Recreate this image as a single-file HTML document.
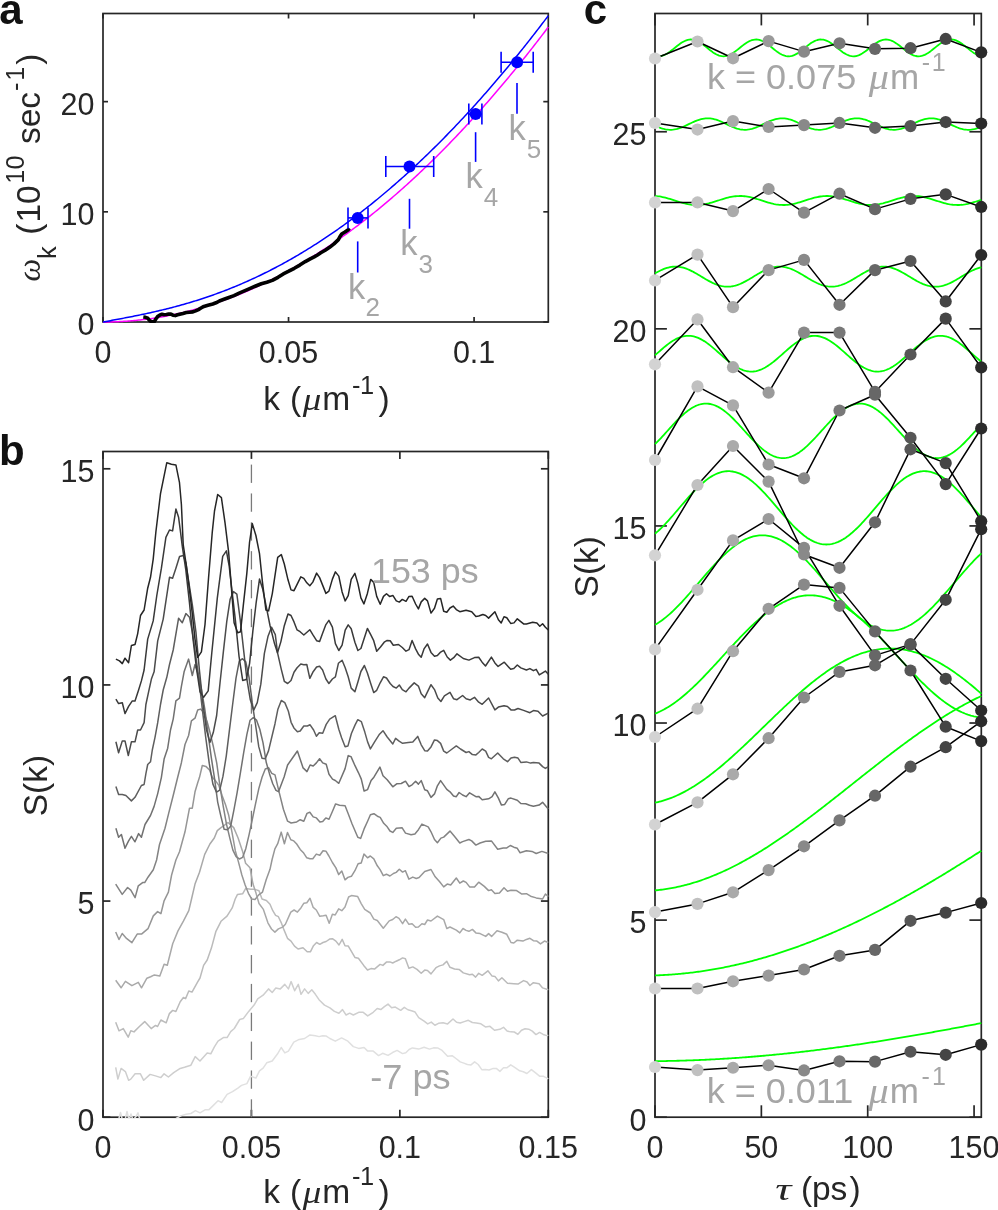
<!DOCTYPE html><html><head><meta charset="utf-8"><style>html,body{margin:0;padding:0;background:#fff;overflow:hidden}svg{display:block}</style></head><body><svg style="will-change:transform" width="998" height="1210" viewBox="0 0 998 1210" font-family='"Liberation Sans", sans-serif'><defs><clipPath id="clipA"><rect x="102" y="12.5" width="447.3" height="310.5"/></clipPath></defs><g stroke="#262626" stroke-width="1.7" fill="none"><line x1="103" y1="322" x2="103" y2="317"/><line x1="103" y1="13.5" x2="103" y2="18.5"/><line x1="288.54" y1="322" x2="288.54" y2="317"/><line x1="288.54" y1="13.5" x2="288.54" y2="18.5"/><line x1="474.08" y1="322" x2="474.08" y2="317"/><line x1="474.08" y1="13.5" x2="474.08" y2="18.5"/><line x1="103" y1="322" x2="108" y2="322"/><line x1="548.3" y1="322" x2="543.3" y2="322"/><line x1="103" y1="211.82" x2="108" y2="211.82"/><line x1="548.3" y1="211.82" x2="543.3" y2="211.82"/><line x1="103" y1="101.64" x2="108" y2="101.64"/><line x1="548.3" y1="101.64" x2="543.3" y2="101.64"/><rect x="103" y="13.5" width="445.3" height="308.5" fill="none"/></g><g clip-path="url(#clipA)"><polyline points="103,322 104.49,322 105.98,321.99 107.47,321.97 108.96,321.95 110.45,321.92 111.94,321.88 113.43,321.84 114.91,321.79 116.4,321.73 117.89,321.67 119.38,321.6 120.87,321.52 122.36,321.44 123.85,321.35 125.34,321.26 126.83,321.16 128.32,321.05 129.81,320.93 131.3,320.81 132.79,320.68 134.28,320.55 135.76,320.4 137.25,320.25 138.74,320.1 140.23,319.94 141.72,319.77 143.21,319.59 144.7,319.41 146.19,319.23 147.68,319.03 149.17,318.83 150.66,318.62 152.15,318.41 153.64,318.19 155.13,317.96 156.61,317.72 158.1,317.48 159.59,317.24 161.08,316.98 162.57,316.72 164.06,316.45 165.55,316.18 167.04,315.9 168.53,315.61 170.02,315.32 171.51,315.02 173,314.71 174.49,314.4 175.98,314.08 177.46,313.75 178.95,313.42 180.44,313.08 181.93,312.73 183.42,312.38 184.91,312.02 186.4,311.65 187.89,311.28 189.38,310.9 190.87,310.52 192.36,310.12 193.85,309.72 195.34,309.32 196.83,308.91 198.32,308.49 199.8,308.06 201.29,307.63 202.78,307.19 204.27,306.74 205.76,306.29 207.25,305.83 208.74,305.37 210.23,304.9 211.72,304.42 213.21,303.93 214.7,303.44 216.19,302.94 217.68,302.44 219.17,301.93 220.65,301.41 222.14,300.89 223.63,300.35 225.12,299.82 226.61,299.27 228.1,298.72 229.59,298.16 231.08,297.6 232.57,297.03 234.06,296.45 235.55,295.87 237.04,295.28 238.53,294.68 240.02,294.08 241.5,293.47 242.99,292.85 244.48,292.23 245.97,291.6 247.46,290.96 248.95,290.32 250.44,289.67 251.93,289.01 253.42,288.35 254.91,287.68 256.4,287 257.89,286.32 259.38,285.63 260.87,284.93 262.35,284.23 263.84,283.52 265.33,282.8 266.82,282.08 268.31,281.35 269.8,280.62 271.29,279.87 272.78,279.12 274.27,278.37 275.76,277.61 277.25,276.84 278.74,276.06 280.23,275.28 281.72,274.49 283.21,273.7 284.69,272.9 286.18,272.09 287.67,271.27 289.16,270.45 290.65,269.62 292.14,268.79 293.63,267.95 295.12,267.1 296.61,266.25 298.1,265.38 299.59,264.52 301.08,263.64 302.57,262.76 304.06,261.87 305.54,260.98 307.03,260.08 308.52,259.17 310.01,258.26 311.5,257.34 312.99,256.41 314.48,255.48 315.97,254.54 317.46,253.59 318.95,252.64 320.44,251.68 321.93,250.71 323.42,249.74 324.91,248.76 326.39,247.77 327.88,246.78 329.37,245.78 330.86,244.77 332.35,243.76 333.84,242.74 335.33,241.71 336.82,240.68 338.31,239.64 339.8,238.6 341.29,237.54 342.78,236.48 344.27,235.42 345.76,234.35 347.24,233.27 348.73,232.18 350.22,231.09 351.71,229.99 353.2,228.89 354.69,227.77 356.18,226.66 357.67,225.53 359.16,224.4 360.65,223.26 362.14,222.12 363.63,220.96 365.12,219.81 366.61,218.64 368.09,217.47 369.58,216.29 371.07,215.11 372.56,213.92 374.05,212.72 375.54,211.52 377.03,210.31 378.52,209.09 380.01,207.86 381.5,206.63 382.99,205.4 384.48,204.15 385.97,202.9 387.46,201.65 388.95,200.38 390.43,199.11 391.92,197.83 393.41,196.55 394.9,195.26 396.39,193.96 397.88,192.66 399.37,191.35 400.86,190.04 402.35,188.71 403.84,187.38 405.33,186.05 406.82,184.7 408.31,183.35 409.8,182 411.28,180.64 412.77,179.27 414.26,177.89 415.75,176.51 417.24,175.12 418.73,173.72 420.22,172.32 421.71,170.91 423.2,169.5 424.69,168.08 426.18,166.65 427.67,165.21 429.16,163.77 430.65,162.32 432.13,160.87 433.62,159.41 435.11,157.94 436.6,156.46 438.09,154.98 439.58,153.49 441.07,152 442.56,150.5 444.05,148.99 445.54,147.48 447.03,145.96 448.52,144.43 450.01,142.89 451.5,141.35 452.98,139.81 454.47,138.25 455.96,136.69 457.45,135.13 458.94,133.55 460.43,131.97 461.92,130.38 463.41,128.79 464.9,127.19 466.39,125.58 467.88,123.97 469.37,122.35 470.86,120.72 472.35,119.09 473.84,117.45 475.32,115.81 476.81,114.15 478.3,112.49 479.79,110.83 481.28,109.15 482.77,107.48 484.26,105.79 485.75,104.1 487.24,102.4 488.73,100.69 490.22,98.98 491.71,97.26 493.2,95.54 494.69,93.8 496.17,92.07 497.66,90.32 499.15,88.57 500.64,86.81 502.13,85.04 503.62,83.27 505.11,81.49 506.6,79.71 508.09,77.92 509.58,76.12 511.07,74.32 512.56,72.5 514.05,70.69 515.54,68.86 517.02,67.03 518.51,65.19 520,63.35 521.49,61.5 522.98,59.64 524.47,57.78 525.96,55.91 527.45,54.03 528.94,52.15 530.43,50.26 531.92,48.36 533.41,46.46 534.9,44.54 536.39,42.63 537.87,40.7 539.36,38.77 540.85,36.84 542.34,34.9 543.83,32.95 545.32,30.99 546.81,29.03 548.3,27.06" fill="none" stroke="#ff00ff" stroke-width="1.5" stroke-linejoin="round" stroke-linecap="butt" /><polyline points="143.3,317 145.5,317.3 147.7,318.2 149.5,320.5 151,321.5 152.6,322.1 154.3,321.6 156,318.8 157.6,316.6 160,315 162,314.3 164,314.8 166.5,314.5 168.7,314 170.9,314.1 173,315.2 175.3,315.6 177.5,314.8 179.7,314.2 183,313.4 186.3,312.5 189.5,312.2 192.9,311.9 195.6,310.9 198.4,309.6 201,308 203.9,306.4 208,305.3 212.8,304 216,302.8 219.4,301 224,299.3 228.2,297.7 234,295.6 239.2,293.1 245,290.6 250.2,288.3 255.7,286 261.3,283.8 266.8,282.2 272.3,280.4 278,277.3 283.3,273.9 288.8,271.2 294.3,268.3 299.8,265.1 305.3,261.6 309.8,259.1 314.2,256.9 317.5,255 320.8,252.8 325.2,250.3 329.6,247.3 334,243.9 338.4,239.6 340,236.5 341.7,234.1 345,232 348.3,229.7 349.4,228.2" fill="none" stroke="#000000" stroke-width="3.6" stroke-linejoin="round" stroke-linecap="butt" /><polyline points="103,322 104.49,321.73 105.98,321.46 107.47,321.18 108.96,320.91 110.45,320.64 111.94,320.36 113.43,320.09 114.91,319.81 116.4,319.53 117.89,319.26 119.38,318.98 120.87,318.7 122.36,318.42 123.85,318.13 125.34,317.85 126.83,317.56 128.32,317.27 129.81,316.98 131.3,316.69 132.79,316.39 134.28,316.1 135.76,315.8 137.25,315.5 138.74,315.19 140.23,314.88 141.72,314.57 143.21,314.26 144.7,313.95 146.19,313.63 147.68,313.3 149.17,312.98 150.66,312.65 152.15,312.32 153.64,311.98 155.13,311.64 156.61,311.3 158.1,310.95 159.59,310.6 161.08,310.25 162.57,309.89 164.06,309.53 165.55,309.16 167.04,308.79 168.53,308.42 170.02,308.04 171.51,307.65 173,307.26 174.49,306.87 175.98,306.48 177.46,306.07 178.95,305.67 180.44,305.26 181.93,304.84 183.42,304.42 184.91,303.99 186.4,303.56 187.89,303.13 189.38,302.69 190.87,302.24 192.36,301.79 193.85,301.33 195.34,300.87 196.83,300.41 198.32,299.93 199.8,299.46 201.29,298.97 202.78,298.49 204.27,297.99 205.76,297.5 207.25,296.99 208.74,296.48 210.23,295.97 211.72,295.45 213.21,294.92 214.7,294.39 216.19,293.85 217.68,293.31 219.17,292.76 220.65,292.2 222.14,291.64 223.63,291.08 225.12,290.5 226.61,289.93 228.1,289.34 229.59,288.75 231.08,288.16 232.57,287.55 234.06,286.95 235.55,286.33 237.04,285.71 238.53,285.09 240.02,284.46 241.5,283.82 242.99,283.18 244.48,282.53 245.97,281.87 247.46,281.21 248.95,280.54 250.44,279.87 251.93,279.19 253.42,278.5 254.91,277.81 256.4,277.11 257.89,276.41 259.38,275.7 260.87,274.98 262.35,274.26 263.84,273.53 265.33,272.79 266.82,272.05 268.31,271.3 269.8,270.55 271.29,269.79 272.78,269.02 274.27,268.25 275.76,267.47 277.25,266.69 278.74,265.89 280.23,265.1 281.72,264.29 283.21,263.48 284.69,262.66 286.18,261.84 287.67,261.01 289.16,260.18 290.65,259.33 292.14,258.48 293.63,257.63 295.12,256.77 296.61,255.9 298.1,255.03 299.59,254.15 301.08,253.26 302.57,252.36 304.06,251.47 305.54,250.56 307.03,249.65 308.52,248.73 310.01,247.8 311.5,246.87 312.99,245.93 314.48,244.99 315.97,244.04 317.46,243.08 318.95,242.11 320.44,241.14 321.93,240.17 323.42,239.18 324.91,238.19 326.39,237.2 327.88,236.2 329.37,235.19 330.86,234.17 332.35,233.15 333.84,232.12 335.33,231.09 336.82,230.04 338.31,229 339.8,227.94 341.29,226.88 342.78,225.81 344.27,224.74 345.76,223.66 347.24,222.57 348.73,221.48 350.22,220.38 351.71,219.27 353.2,218.16 354.69,217.04 356.18,215.91 357.67,214.78 359.16,213.64 360.65,212.5 362.14,211.34 363.63,210.19 365.12,209.02 366.61,207.85 368.09,206.67 369.58,205.49 371.07,204.3 372.56,203.1 374.05,201.89 375.54,200.68 377.03,199.47 378.52,198.24 380.01,197.01 381.5,195.78 382.99,194.53 384.48,193.28 385.97,192.03 387.46,190.76 388.95,189.49 390.43,188.22 391.92,186.93 393.41,185.65 394.9,184.35 396.39,183.05 397.88,181.74 399.37,180.42 400.86,179.1 402.35,177.77 403.84,176.44 405.33,175.1 406.82,173.75 408.31,172.39 409.8,171.03 411.28,169.67 412.77,168.29 414.26,166.91 415.75,165.52 417.24,164.13 418.73,162.73 420.22,161.32 421.71,159.91 423.2,158.49 424.69,157.06 426.18,155.63 427.67,154.19 429.16,152.74 430.65,151.29 432.13,149.83 433.62,148.36 435.11,146.89 436.6,145.41 438.09,143.92 439.58,142.43 441.07,140.93 442.56,139.43 444.05,137.92 445.54,136.4 447.03,134.87 448.52,133.34 450.01,131.8 451.5,130.26 452.98,128.7 454.47,127.15 455.96,125.58 457.45,124.01 458.94,122.43 460.43,120.85 461.92,119.26 463.41,117.66 464.9,116.05 466.39,114.44 467.88,112.83 469.37,111.2 470.86,109.57 472.35,107.94 473.84,106.29 475.32,104.64 476.81,102.98 478.3,101.32 479.79,99.65 481.28,97.97 482.77,96.29 484.26,94.6 485.75,92.91 487.24,91.2 488.73,89.49 490.22,87.78 491.71,86.05 493.2,84.32 494.69,82.59 496.17,80.85 497.66,79.1 499.15,77.34 500.64,75.58 502.13,73.81 503.62,72.04 505.11,70.25 506.6,68.47 508.09,66.67 509.58,64.87 511.07,63.06 512.56,61.25 514.05,59.42 515.54,57.6 517.02,55.76 518.51,53.92 520,52.07 521.49,50.22 522.98,48.36 524.47,46.49 525.96,44.62 527.45,42.73 528.94,40.85 530.43,38.95 531.92,37.05 533.41,35.15 534.9,33.23 536.39,31.31 537.87,29.39 539.36,27.45 540.85,25.51 542.34,23.56 543.83,21.61 545.32,19.65 546.81,17.69 548.3,15.71" fill="none" stroke="#0000ff" stroke-width="1.5" stroke-linejoin="round" stroke-linecap="butt" /></g><g stroke="#0000ff" stroke-width="1.6"><line x1="348" y1="217.9" x2="368" y2="217.9"/><line x1="348" y1="207.4" x2="348" y2="228.4"/><line x1="368" y1="207.4" x2="368" y2="228.4"/><line x1="385.8" y1="166.5" x2="433.7" y2="166.5"/><line x1="385.8" y1="156" x2="385.8" y2="177"/><line x1="433.7" y1="156" x2="433.7" y2="177"/><line x1="468.8" y1="114.1" x2="481.9" y2="114.1"/><line x1="468.8" y1="103.6" x2="468.8" y2="124.6"/><line x1="481.9" y1="103.6" x2="481.9" y2="124.6"/><line x1="501.1" y1="62.2" x2="533.2" y2="62.2"/><line x1="501.1" y1="51.7" x2="501.1" y2="72.7"/><line x1="533.2" y1="51.7" x2="533.2" y2="72.7"/><line x1="357.7" y1="241.4" x2="357.7" y2="272.5"/><line x1="409.5" y1="198.8" x2="409.5" y2="228.7"/><line x1="475.6" y1="132.2" x2="475.6" y2="161.9"/><line x1="517" y1="83.1" x2="517" y2="113.8"/></g><circle cx="357.7" cy="217.9" r="6.0" fill="#0000ff"/><circle cx="409.5" cy="166.5" r="6.0" fill="#0000ff"/><circle cx="475.6" cy="114.1" r="6.0" fill="#0000ff"/><circle cx="517.1" cy="62.2" r="6.0" fill="#0000ff"/><text x="347.98" y="298.6" font-size="34.5" fill="#a6a6a6">k</text><text x="365.59" y="316" font-size="26" fill="#a6a6a6">2</text><text x="400.28" y="255.2" font-size="34.5" fill="#a6a6a6">k</text><text x="418.41" y="272.9" font-size="26" fill="#a6a6a6">3</text><text x="465.48" y="188.4" font-size="34.5" fill="#a6a6a6">k</text><text x="483.8" y="206.2" font-size="26" fill="#a6a6a6">4</text><text x="508.58" y="139.8" font-size="34.5" fill="#a6a6a6">k</text><text x="526.76" y="158.2" font-size="26" fill="#a6a6a6">5</text><g font-size="30.5" fill="#262626"><text x="103" y="362.6" text-anchor="middle">0</text><text x="288.54" y="362.6" text-anchor="middle">0.05</text><text x="474.08" y="362.6" text-anchor="middle">0.1</text><text x="94.4" y="335.3" text-anchor="end">0</text><text x="94.4" y="225.12" text-anchor="end">10</text><text x="94.4" y="114.94" text-anchor="end">20</text></g><defs><clipPath id="clipB"><rect x="102" y="450.5" width="447.3" height="667.7"/></clipPath></defs><g stroke="#262626" stroke-width="1.7" fill="none"><line x1="103" y1="1117.2" x2="103" y2="1109.8"/><line x1="103" y1="451.5" x2="103" y2="458.9"/><line x1="251.43" y1="1117.2" x2="251.43" y2="1109.8"/><line x1="251.43" y1="451.5" x2="251.43" y2="458.9"/><line x1="399.87" y1="1117.2" x2="399.87" y2="1109.8"/><line x1="399.87" y1="451.5" x2="399.87" y2="458.9"/><line x1="548.3" y1="1117.2" x2="548.3" y2="1109.8"/><line x1="548.3" y1="451.5" x2="548.3" y2="458.9"/><line x1="103" y1="1117.2" x2="110.4" y2="1117.2"/><line x1="548.3" y1="1117.2" x2="540.9" y2="1117.2"/><line x1="103" y1="901.06" x2="110.4" y2="901.06"/><line x1="548.3" y1="901.06" x2="540.9" y2="901.06"/><line x1="103" y1="684.93" x2="110.4" y2="684.93"/><line x1="548.3" y1="684.93" x2="540.9" y2="684.93"/><line x1="103" y1="468.79" x2="110.4" y2="468.79"/><line x1="548.3" y1="468.79" x2="540.9" y2="468.79"/><rect x="103" y="451.5" width="445.3" height="665.7" fill="none"/></g><g stroke="#7a7a7a" stroke-width="1.3"><line x1="251.43" y1="464.6" x2="251.43" y2="482.9"/><line x1="251.43" y1="493.45" x2="251.43" y2="511.75"/><line x1="251.43" y1="522.3" x2="251.43" y2="540.6"/><line x1="251.43" y1="551.15" x2="251.43" y2="569.45"/><line x1="251.43" y1="580" x2="251.43" y2="598.3"/><line x1="251.43" y1="608.85" x2="251.43" y2="627.15"/><line x1="251.43" y1="637.7" x2="251.43" y2="656"/><line x1="251.43" y1="666.55" x2="251.43" y2="684.85"/><line x1="251.43" y1="695.4" x2="251.43" y2="713.7"/><line x1="251.43" y1="724.25" x2="251.43" y2="742.55"/><line x1="251.43" y1="753.1" x2="251.43" y2="771.4"/><line x1="251.43" y1="781.95" x2="251.43" y2="800.25"/><line x1="251.43" y1="810.8" x2="251.43" y2="829.1"/><line x1="251.43" y1="839.65" x2="251.43" y2="857.95"/><line x1="251.43" y1="868.5" x2="251.43" y2="886.8"/><line x1="251.43" y1="897.35" x2="251.43" y2="915.65"/><line x1="251.43" y1="926.2" x2="251.43" y2="944.5"/><line x1="251.43" y1="955.05" x2="251.43" y2="973.35"/><line x1="251.43" y1="983.9" x2="251.43" y2="1002.2"/><line x1="251.43" y1="1012.75" x2="251.43" y2="1031.05"/><line x1="251.43" y1="1041.6" x2="251.43" y2="1059.9"/><line x1="251.43" y1="1070.45" x2="251.43" y2="1088.75"/><line x1="251.43" y1="1099.3" x2="251.43" y2="1117.2"/></g><g clip-path="url(#clipB)"><polyline points="118.5,1120 120.5,1112.5 122.5,1120 125,1120 127,1111.5 129,1120 131,1114 133,1120 136,1116.5 138,1112.8 140,1120 143.33,1122.83 146.67,1120.37 150,1121 153.33,1121.19 156.67,1121.79 160,1121 163.33,1119.58 166.67,1120.52 170,1120 176,1118.5 181.3,1115.6 186.1,1114.26 190.9,1113.5 195.45,1110.58 200,1112.8 205.4,1109.7 209,1109.65 212.6,1106.1 218,1100.7 221.6,1102.5 227.1,1094.4 232.5,1091.7 237.9,1088.1 241.5,1085.4 246.9,1083.6 250.5,1076.3 255.9,1078.1 259.5,1070.9 263.1,1068.2 266.7,1062.8 272.2,1061 277.6,1053.8 281.2,1047.5 284.8,1052.9 288.4,1051.1 293.8,1042.1 299.2,1039.4 304.6,1038.5 310,1034.9 315.4,1035.8 319.05,1036.62 322.7,1035.8 326.3,1036.02 329.9,1038.5 335.3,1041.2 341.6,1037.9 347.9,1041.2 353.3,1046.6 358.7,1048.4 364.1,1047.5 367.7,1051.1 373.2,1051.1 378.6,1055.6 382.6,1053.3 388,1055.4 392.55,1052.51 397.1,1050.4 402.5,1053.6 405.8,1052.72 409.1,1049.53 412.4,1047.9 418.7,1049.1 424.1,1047.3 429.5,1049.1 433.55,1047.86 437.6,1047.9 442.1,1050.4 447.6,1056.3 452.1,1055.65 456.6,1059 460.2,1061.88 463.8,1063.11 467.4,1064.5 471,1064.89 474.6,1061.86 478.2,1064.5 481.8,1069.68 485.4,1069.5 489.03,1069.96 492.67,1068.61 496.3,1068.4 499.9,1071.39 503.5,1067.84 507.1,1067.7 510.7,1064.84 514.3,1067.2 519.7,1070.8 523.3,1071.75 526.9,1073.5 531.4,1069.61 535.9,1073.1 539.55,1076.13 543.2,1076.2 548.3,1078.9" fill="none" stroke="#e0e0e0" stroke-width="1.5" stroke-linejoin="round" stroke-linecap="butt" /><polyline points="115.7,1067.3 117.9,1079.1 121.1,1068.4 125.4,1071.6 128.6,1080.3 130.8,1079.1 135.1,1073.8 140.4,1073.8 143.7,1080.3 150.1,1074.4 155.5,1075.9 160.9,1077.6 164.1,1073.8 168.4,1077 173.7,1072.7 180.2,1068.4 184.5,1067.3 190.9,1065.2 195.2,1056.6 200,1061 203.6,1057 207.2,1052.9 210.8,1053.8 214.4,1046.9 218,1041.2 223.4,1037.6 227.1,1037.6 230.7,1031.62 234.3,1028.5 239.7,1019.5 243.3,1018.6 248.7,1011.4 254.1,1005.1 257.7,998.8 263.1,995.2 268.5,988.9 272.2,992.5 275.8,988 280.3,988.9 284.8,984.4 288.4,988.9 291.1,981.6 294.7,990.7 298.3,984.4 301,994.3 304.6,988.9 308.2,993.4 311.8,989.8 315.4,994.3 319,999.7 324.5,1005.1 329.9,1007.8 334.4,1011.4 338.9,1013.2 342.5,1009.6 346.1,1015 349.7,1013.2 353.3,1015 358.7,1012.3 363.2,1012.3 367.7,1015.9 373.2,1012.3 377.2,1008.5 380.8,1009.58 384.4,1006.7 388.03,1004.15 391.67,1007.69 395.3,1007.1 400.7,1010.3 404.3,1007.35 407.9,1009.75 411.5,1010.7 415.1,1012.07 418.7,1017.6 424.1,1021.2 427.7,1023.93 431.3,1022.1 434.9,1025.28 438.5,1023.3 443.05,1022.8 447.6,1023.9 453,1019 456.6,1022.31 460.2,1023 464.25,1021.59 468.3,1020.3 472.35,1022.5 476.4,1023 480.9,1023.78 485.4,1026.9 489.95,1026.31 494.5,1030.2 499.9,1029.3 503.5,1027.31 507.1,1031.1 510.7,1031.87 514.3,1032 517.9,1034.35 521.5,1030.27 525.1,1028.7 528.7,1029.15 532.3,1031.1 535.95,1034.6 539.6,1032.4 543.2,1034.44 546.8,1035.6 548.3,1035.2" fill="none" stroke="#cecece" stroke-width="1.5" stroke-linejoin="round" stroke-linecap="butt" /><polyline points="115.7,1022.2 119,1030.8 123.3,1028.6 128.2,1037.2 130.8,1030.8 134,1031.9 139.4,1026.5 144.7,1021.6 151.2,1028.6 155.5,1025.4 157.6,1026.5 160.9,1020 166.2,1022.8 169.4,1013.6 172.7,1010.4 175.9,1011.5 180.2,1001.8 183.4,997.5 185.6,998.6 188.8,991 192,992.1 197.4,982.4 200,978 203.6,965.4 207.2,960 211.4,948.1 215.8,931.7 221,921.3 227,916.1 232.2,907.9 235.2,899 237.4,894.6 242.6,893.8 245.6,888.6 250.8,889.3 254.9,889.36 259,890.8 262,899 266.4,900.5 270,904.3 272.8,910.7 275.6,915.3 278.4,916.7 281.2,922.6 284,929.9 287.5,938.3 291,941.1 294.5,946.1 298.1,949 303,947.8 307.2,951.8 310.4,951.8 313.5,945.7 316.6,942.5 319.8,944.3 323,942.5 326.1,941.5 329.6,939.1 332.4,938.7 335.9,941.1 339,945 342.2,939.4 345,945.7 348.3,946.1 351.4,951.3 354.9,957.4 358.4,958.3 363.7,965.4 367.5,970 371,968.6 374.5,969.1 380.1,964.4 382.9,965.4 386.4,962.1 389.9,961.9 392.7,963 396.2,961.2 399.3,959.8 402.6,957.9 405.4,958.8 408.9,968.2 412.8,966.9 417,969.4 421.2,973.3 424.7,970.1 427.5,970.5 431,973.9 436,967.7 439.5,965.9 443,964.9 446.8,961.3 450,967.3 454.55,968.93 459.1,969.4 463.3,972.9 469.6,974.7 472.4,974.3 475.6,977.1 478.7,973.3 482.2,975.3 487.9,970.8 492.1,976.1 494.9,976.4 498.4,980.9 501.9,977.8 507.5,983.2 513.8,983.7 518,984.1 523.6,980.6 527.1,982 529.9,985.5 533.4,982.7 539.1,983.7 542.6,987.9 548.3,989.7" fill="none" stroke="#bbbbbb" stroke-width="1.5" stroke-linejoin="round" stroke-linecap="butt" /><polyline points="115.7,980.3 121.1,987.8 125.4,981.4 131.9,985.7 138.3,982.4 141.5,987.8 146.9,978.2 150.65,976.72 154.4,974.9 159.8,976 164.1,964.2 167.3,965.3 172.7,943.8 178,930.9 183.4,921.2 188.8,910.7 192,897 195,884.1 199.5,872.2 204.7,854.4 209.9,844 214.3,838 217.3,830.6 221,827.6 223.3,826.1 228,822.5 233.7,827.6 238.1,838 242.6,851.4 245.6,863.3 250,867.8 253,884.1 256,893.1 259,903.5 263.4,909.4 267.9,922.8 271.5,929 274.9,932.1 278.4,928.9 282.6,927.1 285.4,924.3 290.8,912.1 294.1,910 297.4,912.1 300.9,907.9 303.9,903.2 306.8,902.7 310,898.3 313.2,907.4 316.3,910 319.8,916.3 323.3,915.8 326.1,915.3 329.2,923.3 332.4,914.2 335.2,914.9 338.7,908.8 341.8,910.7 345,907.1 348.6,897 351.4,895.6 357.7,896.6 361.2,903.6 364.7,909.3 370.3,913 373.8,919.1 377.3,920.5 383.3,928.2 389.2,920.9 392.7,919.5 396,916.7 399,918.4 402.6,923.7 405.4,919.1 408.9,924.3 412.1,923.8 415.6,927.3 418.4,927 421.9,923.8 424.7,924.5 427.5,920 431,921 437.4,916.1 443.7,919.6 446.8,928.5 450,927 456.3,930.1 459.8,932.9 463,928.5 466.1,930.4 468.9,931.3 472.4,929.4 475.9,932.9 480.1,933.6 485.7,936.4 488.6,933.6 491.6,936.4 497,930.8 501.9,932.2 506.8,934.3 511,942.5 513.8,943 517.3,940.2 522.9,941.1 526.4,939.44 529.9,938.3 533.4,940.7 536.9,941.1 540.5,943.9 544.4,941.05 548.3,942.5" fill="none" stroke="#a9a9a9" stroke-width="1.5" stroke-linejoin="round" stroke-linecap="butt" /><polyline points="115.7,932 119,939.5 122.2,933.5 126.5,938.4 131.9,942.7 137.2,934.1 141.5,934.1 148,928.7 153.3,915.9 157.6,911.6 160.9,913.7 164.1,900.8 168.4,892.2 171.6,875 175.9,860 179.5,851.8 185,831.8 189.5,808.2 192.3,808.2 195,791.8 197.7,782.7 199.5,777.3 202.3,765.5 205.9,766.4 209.5,770 212.3,777.3 215.58,780.82 218.87,785.43 222.15,795.75 225.44,804.56 228.72,815.3 232.01,832.47 235.29,850.63 238.58,862.37 241.86,874.98 245.15,885 248.43,893.34 251.72,899 255,899.5 258.75,894.85 262.5,892.04 266.25,879.44 270,869.3 272.1,859.5 274.9,848.9 277.7,843.7 281.2,832.1 284.4,843.7 287.5,832.5 290.8,839.8 293.8,840.9 296.7,844 300.2,849.4 303.7,853.1 306.8,857.8 310,858.8 312.8,858.8 316.3,854.1 319.8,855.2 323,850.8 326.1,851.3 328.9,856 332.4,862.5 335.9,867.9 338.7,874.6 341.8,871 345,879.8 347.9,877.4 351.4,876.3 354.9,870.7 358.1,863.7 361.2,863 364,854.1 367.5,857.8 370.3,856 373.8,858.8 377.3,865.8 380.1,869.6 383.3,875.6 386.4,874.2 389.9,876 393.4,873.5 396.2,872.4 399.3,869.3 402.6,872.1 405.4,870.7 408.9,879.1 412.8,877.1 416.3,878.5 419.1,877.5 424.7,871.5 431,869.5 435.2,876.8 439.45,881.49 443.7,886.9 447.2,884.1 450.7,885 456.3,878 459.8,883.1 463.3,881 466.1,882.4 469.6,886.9 474.5,886.9 478.7,882.2 484.3,886.4 488.6,890.6 491.4,889.7 494.9,893.4 499.45,892.88 504,887.8 507.5,891.21 511,890.2 516.6,890.6 521.5,893.9 526.4,893.7 530.6,896.2 536.2,897.9 542.6,899 545.4,894 548.3,896.5" fill="none" stroke="#969696" stroke-width="1.5" stroke-linejoin="round" stroke-linecap="butt" /><polyline points="115.7,884.1 122.2,894.4 127.6,887.5 130.8,890.1 135.1,897.6 138.3,885.8 142.6,882.6 144.7,882.6 148,877.2 153.3,869.7 156.6,860 159.5,844.5 165,828.2 168.6,813.6 173.2,795.5 177.7,777.3 181.4,762.7 185,744.5 188.6,735.5 191.4,720.9 195,718.2 197.7,710 200.5,709.1 203.74,712.56 206.98,721.23 210.22,733.31 213.46,747.04 216.7,762.79 219.93,786.02 223.17,805.95 226.41,823.88 229.65,837.31 232.89,850.13 236.13,856.68 239.37,858.97 242.61,857.41 245.85,848.43 249.09,834.64 252.33,819.38 255.57,803.69 258.8,788.59 262.04,777.18 265.28,768.94 268.52,767.75 271.76,773.34 275,774.9 279.2,792.4 283.4,809.2 287.6,821.2 291.1,823 296.7,821.9 300.2,819.7 303.8,821.2 307,813.4 309.8,812.3 313.2,816.9 316.4,817.9 319.9,822.1 322.7,821.6 325.8,817.9 329,819.3 332.5,811.3 335.6,803.9 339.5,805.3 345.1,805.7 348.6,814.8 352.1,824 357.8,837.3 360.6,838.4 364.1,828.9 367.6,821.2 370.4,814.8 373.9,813.7 377.4,816.2 380.2,817.4 383.7,823.3 387.2,826.8 390,831 392.8,832.4 396.3,828.2 402,827.7 405.5,833.1 411.1,834.8 414.9,833.9 418.4,829.7 421.9,824.1 428.2,826.9 431,831.8 434.5,839.5 437.4,842.7 440.9,838.1 443.7,837.1 450,831.1 454.2,836 459.8,843 462.6,841.6 468.9,839.5 471.7,840.9 475.9,845.1 480.1,843 485.7,841.3 491.4,840.9 497.7,849.3 503.3,847.9 506.8,847.94 510.3,845.5 513.8,847.2 517.3,848.3 520.1,852.8 526.4,850.7 532,851.4 536.2,853.5 541.9,851.4 548.3,853.5" fill="none" stroke="#838383" stroke-width="1.5" stroke-linejoin="round" stroke-linecap="butt" /><polyline points="115.9,828.2 118.6,837.3 121.4,834.5 125,848.2 128.6,840.9 131.4,836.4 135,841.8 138.6,833.6 141.4,837.3 145,824.5 150.5,815.5 154.1,806.4 157.7,793.6 161.4,777.3 164.1,759.1 167.7,748.2 170.5,730 173.2,719.1 175.9,700.9 179.5,698.2 181.4,686.4 184.1,671.8 188.6,659.1 192.3,675.5 195,664.5 198.24,674.47 201.48,689.71 204.72,708.71 207.96,733.18 211.2,756.94 214.44,777.8 217.68,802.08 220.92,816.38 224.16,829.36 227.4,829.75 230.64,826.33 233.88,810.15 237.12,792.73 240.36,773.13 243.6,753.24 246.84,734.66 250.08,720.28 253.32,717.65 256.56,720.16 259.8,729.25 263.04,742.87 266.28,762.53 269.52,773.9 272.76,783.71 276,790.4 278.5,791.7 284.1,777 287.6,765 292.5,758 297.4,751 303.1,767.9 307,771.6 310.1,765 313.2,766 316.4,762.9 319.6,758.7 322.7,762.9 326.2,764.3 329,774.2 332.5,779.1 335.3,780.5 338.8,783.3 345.1,768.6 348.2,755.6 351,756.6 355,765.7 358.5,772.8 361.3,779.1 364.1,791 367.6,789.6 371.1,780.5 373.9,777.2 379.9,767.1 383,775.8 387.2,779.8 392.8,786.8 397,783.7 401.25,783.49 405.5,781.2 409,786.5 412.1,784.8 415.6,781.3 418.4,784.1 421.2,780.6 424.7,789.7 427.5,790.8 431,797.4 434.5,793.9 437.4,785.8 440.6,780.6 446.8,789.4 450,791.8 453.5,796 456.3,796.7 459.1,792.5 462.6,795 466.1,796.7 469.6,792.8 475.9,796.7 478.7,796.4 482.2,799.8 488.6,798.8 492.1,796.7 494.9,791.8 498.4,798.1 501.5,805.1 504.7,804.4 508.2,798.8 511,798.1 517.3,800.2 520.8,803.5 525.7,803.7 529.55,805.25 533.4,806.3 539.1,805.1 542.6,802.3 548.3,809.1" fill="none" stroke="#717171" stroke-width="1.5" stroke-linejoin="round" stroke-linecap="butt" /><polyline points="115.9,786.4 118.6,794.5 122.3,794.5 125.9,795.5 131.4,800.9 135,797.3 141.4,785.5 144.1,784.5 145.9,773.6 147.7,764.5 150.5,761.8 152.3,750 155,737.3 157.7,722.7 160.5,704.5 163.2,690 166.8,677.3 169.5,664.5 173.2,650 178.6,618.2 182.3,622.7 185.9,613.6 189.5,617.3 192.3,631.8 195,650 198.58,676.45 202.17,707.9 205.75,737.7 209.33,763.95 212.92,784.18 216.5,792.1 219.75,790.1 223,776.17 226.25,756.12 229.5,729.69 232.75,703.53 236,678.06 239.25,661.21 242.5,658.71 245.75,661.89 249,677.04 252.25,702.95 255.5,724.5 258.75,746.67 262,758.2 265.25,758.83 268.5,750.87 271.75,737.23 275,723.7 277.8,709.6 281.3,700.5 284.8,702.6 288.3,711 291.1,722.3 293.9,727.9 297.4,731.7 300.2,731 303.8,726 307.3,726 310.1,724.8 313.6,730 316.4,736.3 319.2,732.8 322.7,733.2 326.2,724.4 329.7,719.2 335.3,715.7 338.8,729.3 341.6,737.7 345.1,746.8 347.9,746.1 351.4,733.5 355,725.1 357.8,719.7 361.3,721.6 364.8,732.1 367.6,741.9 370.4,748.9 374.6,741.9 379.5,734.2 383,730.7 387.2,737 392.8,744 395.6,738.4 399.1,741.2 402.6,743.3 408.3,742.6 412.8,742 417.7,736.4 421.2,744.8 424.7,750.7 427.5,751.1 431,746.9 434.5,739.9 437.4,740.6 440.6,743.4 443.7,751.1 446.8,753 452.1,749 456.3,745.9 460.5,749 466.1,752.5 468.9,751.6 472.4,754.6 475.9,754.9 478.7,752.5 482.2,749 485.7,751.1 488.6,757.4 491.4,758.8 497.7,753 503.3,758.8 507.5,761.7 511,758.1 514.5,757.2 518,758.1 520.8,762.4 526.4,761.9 530.6,763.1 533.4,762.4 539.1,763.1 542.6,766.6 545.4,768.4 548.3,766.6" fill="none" stroke="#5e5e5e" stroke-width="1.5" stroke-linejoin="round" stroke-linecap="butt" /><polyline points="115.9,741.8 118.6,752.7 122.3,740.9 125,740.9 128.3,755.5 131.4,741.8 135,741.8 137.7,730 140.5,730 144.1,722.7 145.9,704.5 148.6,691.8 151.4,679.1 154.1,671.8 157.7,640.9 163.2,619.1 169.5,577.3 172.6,578.2 175.9,568.2 179.55,556.47 183.2,555.5 185.9,562.7 188.6,580.9 192.3,604.5 195.9,631.8 199.4,669.97 202.9,703.32 206.4,729.47 209.9,742.4 213.27,732.57 216.64,715.52 220.01,682.98 223.38,651.56 226.75,621.66 230.12,599.37 233.48,591.63 236.85,594.08 240.22,619.6 243.59,649.88 246.96,679.71 250.33,699.78 253.7,710.2 257.26,702.59 260.82,684.15 264.38,653.29 267.94,636.56 271.5,627.2 275.3,634.7 277.5,652.7 281.3,669.3 284.3,681.3 287.7,683.5 291,680.5 294,672.3 297.1,667.8 300.8,664 303.8,664.8 306.8,664.5 309.8,678.3 312.8,672.3 316.6,667 319.6,666.3 322.6,670 325.9,679 328.9,683.5 332.4,679 335.4,676.8 338.4,663.3 342.1,660.2 345.2,667.8 348.2,676.8 351.2,688.1 354.9,691.8 357.9,682 360.9,671.5 364.4,665.5 367.4,673 370.7,683.5 373.7,692.6 376.7,690.3 380.2,682.8 383.5,676.8 386.5,678 390.2,683.5 393,686.5 396.3,688.1 399.3,685 402.3,689.6 406,691.8 409,688.1 414.2,682.9 418.4,686.1 421.2,693.8 424.7,697.7 431,684.7 434.5,689.6 437.8,698 440.9,701.5 444.4,695.9 450,692.4 453.5,698.7 457,699.7 462.6,695.5 466.1,698.7 470.3,699.91 474.5,697.3 478.7,702.2 482.2,704.3 488.6,698 494.9,709.9 498.4,707.1 504,705.7 507.5,706.49 511,709.9 514.5,709.95 518,708.5 523.6,710.4 529.9,712.7 533.4,710.6 538,711.22 542.6,716 548.3,713.2" fill="none" stroke="#4b4b4b" stroke-width="1.5" stroke-linejoin="round" stroke-linecap="butt" /><polyline points="115.9,699.1 118.6,703.6 122.3,702.7 125,713.6 128.6,706.4 132.3,700.9 135,700.9 138.6,690 141.4,680.9 144.1,670 147.7,639.1 153.2,620.9 156.8,595.5 161.4,568.2 165.9,537.3 169.5,530 172.6,530.9 175.9,509.1 178.6,517.3 180.5,531.8 182.3,546.4 185.85,570.17 189.4,602.15 192.95,638.19 196.5,668.7 200.05,691.86 203.6,697.3 208.2,690.9 211.8,652.7 217.3,598.2 222.7,556.4 226.4,550.9 229.1,565.5 231.8,589.1 235.43,620.51 239.05,656.49 242.68,680.42 246.3,679.6 249.6,663.36 252.9,630.62 256.2,602.28 259.5,579.1 262.7,589.1 266.4,607.3 270,625.5 274.5,643.6 277.5,652.7 280.9,641.6 284.3,625.7 288,614 291,615.5 294,621.9 297.1,629.9 300.1,631.7 303.8,635 309.8,629.7 312.8,634.7 316.6,640.7 319.6,641.5 322.6,633.2 325.9,624.6 328.9,620.4 332.4,627.2 335.4,643.7 338.8,650.5 342.1,645.2 345.2,630.2 348.2,624.9 351.2,628.7 354.9,642.2 357.9,650.5 360.9,648.5 363.9,639.2 367.4,628.4 370.7,634.7 373.7,640.7 376.7,651.2 380.5,647 384.2,642.2 387.2,640.4 390.2,640.7 393.3,645.2 398.5,644.5 402.3,647.5 406,651.2 409,649.7 412.1,640.5 415.6,648.9 418.4,654.2 421.2,657.3 424,648.9 427.5,644 431,652.4 434.5,656.2 437.4,655.6 440.2,652.4 443.7,650.3 447.2,657 450.4,660.1 453.7,657.72 457,653.8 463.3,658.5 468.9,660.1 474.5,657.6 478.7,657.3 482.1,662.17 485.5,666 491.4,657.1 494.9,662.9 498.1,666.4 504.3,662.2 510.7,669.3 513.8,668.6 517.3,665 520.8,667.9 526.4,670 529.9,668.6 533.4,670.7 536.2,669.3 539.3,674.9 542.6,672.8 545.4,671.1 548.3,674.2" fill="none" stroke="#393939" stroke-width="1.5" stroke-linejoin="round" stroke-linecap="butt" /><polyline points="115.9,659.1 119.5,660.9 122.3,663.6 125,658.2 128.6,662.7 131.4,645.5 135,644.5 137.7,633.6 140.5,615.5 144.1,610 147.7,588.2 150.5,577.3 153.2,559.1 155.9,531.8 160.5,493.6 166.8,462.7 171.4,464.2 175.9,464.9 179.5,482.7 181.4,504.5 183.2,544.5 185.9,562.7 188.6,582.7 192.3,613.6 195,639.1 197.7,657.3 201.4,651.8 205,624.5 208.6,577.3 212.3,531.8 214.5,511 217.7,494.5 221.4,497.6 225,522.7 228.6,551.8 232.3,599.1 234.1,622.7 237.7,632.7 240.5,631.8 243.2,606.4 246.8,573.6 249.5,542.7 252.3,523.6 255.9,535.5 259.5,553.6 262.3,580.9 265.9,610 268.6,610.9 272.3,593.6 277.7,557.3 281.3,554.6 284.3,564 288,579.8 291,589.9 294,590.7 297.1,584.3 300.8,576.8 303.8,578.3 306.8,582.8 309.8,585.8 312.8,582.1 316.6,573.1 319.6,577.6 322.6,585.1 325.9,593.4 328.9,591.1 332.4,579.1 335.4,571.9 338.8,576.1 342.1,591.9 345.2,600.9 348.2,595.6 351.2,579.4 354.9,573.4 357.9,583.6 360.9,597.9 363.9,603.9 367.4,593.4 370.7,579.4 373.7,582.4 376.7,596.4 380.2,604.3 383.5,596.4 386.5,593.8 389.5,596.4 393,595.6 396.3,600.9 399.3,602.1 402.3,599.4 406,601.3 409,596.4 412.1,596.3 415.6,604 418.4,608.9 421.2,601.9 424.7,598.4 427.5,600.9 431,613.1 434.5,608.2 437.4,599.1 440.6,598.4 443.7,611.3 446.8,612.2 450,608 453.2,606.1 456.3,609.6 459.8,611.7 466.1,610.3 471.7,611.7 475.9,616.4 478.7,616 482.9,614.5 485.7,615.5 488.6,618.1 494.9,611.7 498.4,619.7 501.2,623 504,616.7 506.8,617.8 510.7,623.4 514,622.88 517.3,618.8 523.6,623.9 526.4,623.9 532.7,622.3 536.9,623 539.8,626.2 542.6,623.7 545.4,627.2 548.3,630" fill="none" stroke="#262626" stroke-width="1.5" stroke-linejoin="round" stroke-linecap="butt" /></g><text transform="translate(370.97,583.2) scale(1.03,1)" font-size="34.8" fill="#a6a6a6">153 ps</text><text transform="translate(370.2,1089.1) scale(1.04,1)" font-size="34.8" fill="#a6a6a6">-7 ps</text><g font-size="30.5" fill="#262626"><text x="103" y="1157.8" text-anchor="middle">0</text><text x="251.43" y="1157.8" text-anchor="middle">0.05</text><text x="399.87" y="1157.8" text-anchor="middle">0.1</text><text x="548.3" y="1157.8" text-anchor="middle">0.15</text><text x="94.4" y="1130.5" text-anchor="end">0</text><text x="94.4" y="914.36" text-anchor="end">5</text><text x="94.4" y="698.23" text-anchor="end">10</text><text x="94.4" y="482.09" text-anchor="end">15</text></g><defs><clipPath id="clipC"><rect x="654" y="12.5" width="328.3" height="1105.7"/></clipPath></defs><text transform="translate(706.96,88.9) scale(1.03,1)" font-size="35" fill="#a6a6a6">k = 0.075</text><text transform="translate(868.84,88.9) scale(1.12,1)" font-size="36" fill="#a6a6a6" font-style="italic" font-family="Liberation Serif">μ</text><text x="889.98" y="88.9" font-size="35" fill="#a6a6a6">m</text><text x="921.79" y="71" font-size="25" fill="#a6a6a6">-</text><text x="931.7" y="71" font-size="25" fill="#a6a6a6">1</text><text transform="translate(706.66,1102.5) scale(1.03,1)" font-size="35" fill="#a6a6a6">k = 0.011</text><text transform="translate(868.54,1102.5) scale(1.12,1)" font-size="36" fill="#a6a6a6" font-style="italic" font-family="Liberation Serif">μ</text><text x="889.68" y="1102.5" font-size="35" fill="#a6a6a6">m</text><text x="921.49" y="1084.6" font-size="25" fill="#a6a6a6">-</text><text x="932.1" y="1084.6" font-size="25" fill="#a6a6a6">1</text><g stroke="#262626" stroke-width="1.7" fill="none"><line x1="655" y1="1117.2" x2="655" y2="1105.3"/><line x1="655" y1="13.5" x2="655" y2="25.4"/><line x1="761.36" y1="1117.2" x2="761.36" y2="1105.3"/><line x1="761.36" y1="13.5" x2="761.36" y2="25.4"/><line x1="867.71" y1="1117.2" x2="867.71" y2="1105.3"/><line x1="867.71" y1="13.5" x2="867.71" y2="25.4"/><line x1="974.07" y1="1117.2" x2="974.07" y2="1105.3"/><line x1="974.07" y1="13.5" x2="974.07" y2="25.4"/><line x1="655" y1="1117.2" x2="666.9" y2="1117.2"/><line x1="981.3" y1="1117.2" x2="969.4" y2="1117.2"/><line x1="655" y1="920.11" x2="666.9" y2="920.11"/><line x1="981.3" y1="920.11" x2="969.4" y2="920.11"/><line x1="655" y1="723.02" x2="666.9" y2="723.02"/><line x1="981.3" y1="723.02" x2="969.4" y2="723.02"/><line x1="655" y1="525.93" x2="666.9" y2="525.93"/><line x1="981.3" y1="525.93" x2="969.4" y2="525.93"/><line x1="655" y1="328.84" x2="666.9" y2="328.84"/><line x1="981.3" y1="328.84" x2="969.4" y2="328.84"/><line x1="655" y1="131.75" x2="666.9" y2="131.75"/><line x1="981.3" y1="131.75" x2="969.4" y2="131.75"/><rect x="655" y="13.5" width="326.3" height="1103.7" fill="none"/></g><g clip-path="url(#clipC)"><polyline points="655,55.82 656.49,56.14 657.98,56.29 659.47,56.26 660.96,56.06 662.45,55.7 663.94,55.17 665.43,54.48 666.92,53.67 668.41,52.73 669.9,51.7 671.39,50.58 672.88,49.41 674.37,48.21 675.86,47 677.35,45.81 678.84,44.67 680.33,43.59 681.82,42.6 683.31,41.72 684.8,40.96 686.29,40.36 687.78,39.9 689.27,39.62 690.76,39.5 692.25,39.56 693.74,39.79 695.23,40.19 696.72,40.75 698.21,41.46 699.7,42.3 701.19,43.26 702.68,44.31 704.17,45.43 705.66,46.61 707.15,47.82 708.64,49.02 710.13,50.21 711.62,51.34 713.11,52.41 714.6,53.38 716.09,54.23 717.58,54.96 719.07,55.54 720.56,55.96 722.05,56.22 723.54,56.3 725.03,56.21 726.52,55.95 728.01,55.52 729.5,54.93 730.99,54.19 732.48,53.33 733.97,52.35 735.46,51.29 736.95,50.15 738.44,48.96 739.93,47.76 741.42,46.55 742.91,45.38 744.4,44.25 745.89,43.2 747.38,42.25 748.87,41.42 750.36,40.72 751.85,40.17 753.34,39.78 754.83,39.55 756.32,39.5 757.81,39.63 759.3,39.92 760.79,40.38 762.28,41 763.77,41.76 765.26,42.64 766.75,43.64 768.24,44.72 769.73,45.87 771.22,47.06 772.71,48.27 774.2,49.47 775.69,50.64 777.18,51.75 778.67,52.78 780.16,53.71 781.65,54.52 783.14,55.2 784.63,55.72 786.12,56.08 787.61,56.27 789.1,56.29 790.59,56.13 792.08,55.8 793.57,55.31 795.06,54.67 796.55,53.89 798.04,52.98 799.53,51.96 801.02,50.87 802.51,49.71 804,48.51 805.49,47.3 806.98,46.11 808.47,44.95 809.96,43.85 811.45,42.84 812.94,41.93 814.43,41.14 815.92,40.49 817.41,40 818.89,39.67 820.38,39.51 821.87,39.53 823.36,39.72 824.85,40.08 826.34,40.6 827.83,41.27 829.32,42.08 830.81,43.01 832.3,44.04 833.79,45.15 835.28,46.31 836.77,47.51 838.26,48.72 839.75,49.91 841.24,51.06 842.73,52.15 844.22,53.14 845.71,54.03 847.2,54.79 848.69,55.41 850.18,55.87 851.67,56.17 853.16,56.3 854.65,56.25 856.14,56.03 857.63,55.64 859.12,55.09 860.61,54.39 862.1,53.56 863.59,52.61 865.08,51.56 866.57,50.44 868.06,49.26 869.55,48.06 871.04,46.85 872.53,45.67 874.02,44.53 875.51,43.46 877,42.48 878.49,41.62 879.98,40.88 881.47,40.29 882.96,39.86 884.45,39.59 885.94,39.5 887.43,39.58 888.92,39.83 890.41,40.25 891.9,40.83 893.39,41.56 894.88,42.41 896.37,43.38 897.86,44.44 899.35,45.58 900.84,46.76 902.33,47.97 903.82,49.17 905.31,50.35 906.8,51.48 908.29,52.53 909.78,53.49 911.27,54.33 912.76,55.04 914.25,55.6 915.74,56 917.23,56.24 918.72,56.3 920.21,56.19 921.7,55.9 923.19,55.45 924.68,54.84 926.17,54.09 927.66,53.22 929.15,52.23 930.64,51.15 932.13,50 933.62,48.81 935.11,47.61 936.6,46.4 938.09,45.23 939.58,44.12 941.07,43.08 942.56,42.14 944.05,41.32 945.54,40.64 947.03,40.11 948.52,39.74 950.01,39.54 951.5,39.51 952.99,39.66 954.48,39.97 955.97,40.45 957.46,41.09 958.95,41.86 960.44,42.76 961.93,43.77 963.42,44.86 964.91,46.02 966.4,47.21 967.89,48.42 969.38,49.62 970.87,50.78 972.36,51.88 973.85,52.9 975.34,53.82 976.83,54.61 978.32,55.27 979.81,55.77 981.3,56.11" fill="none" stroke="#00ff00" stroke-width="1.8" stroke-linejoin="round" stroke-linecap="butt" /><polyline points="655,125.59 656.49,126.28 657.98,126.92 659.47,127.53 660.96,128.07 662.45,128.56 663.94,128.97 665.43,129.3 666.92,129.55 668.41,129.72 669.9,129.79 671.39,129.78 672.88,129.67 674.37,129.48 675.86,129.2 677.35,128.84 678.84,128.4 680.33,127.9 681.82,127.33 683.31,126.72 684.8,126.06 686.29,125.37 687.78,124.65 689.27,123.93 690.76,123.21 692.25,122.51 693.74,121.82 695.23,121.18 696.72,120.58 698.21,120.03 699.7,119.55 701.19,119.13 702.68,118.8 704.17,118.55 705.66,118.38 707.15,118.31 708.64,118.32 710.13,118.43 711.62,118.62 713.11,118.9 714.6,119.26 716.09,119.7 717.58,120.2 719.07,120.77 720.56,121.38 722.05,122.04 723.54,122.73 725.03,123.45 726.52,124.17 728.01,124.89 729.5,125.59 730.99,126.28 732.48,126.92 733.97,127.52 735.46,128.07 736.95,128.55 738.44,128.97 739.93,129.3 741.42,129.55 742.91,129.72 744.4,129.79 745.89,129.78 747.38,129.67 748.87,129.48 750.36,129.2 751.85,128.84 753.34,128.4 754.83,127.9 756.32,127.33 757.81,126.72 759.3,126.06 760.79,125.37 762.28,124.65 763.77,123.93 765.26,123.21 766.75,122.51 768.24,121.82 769.73,121.18 771.22,120.58 772.71,120.03 774.2,119.55 775.69,119.13 777.18,118.8 778.67,118.55 780.16,118.38 781.65,118.31 783.14,118.32 784.63,118.42 786.12,118.62 787.61,118.9 789.1,119.26 790.59,119.69 792.08,120.2 793.57,120.77 795.06,121.38 796.55,122.04 798.04,122.73 799.53,123.45 801.02,124.17 802.51,124.89 804,125.59 805.49,126.27 806.98,126.92 808.47,127.52 809.96,128.07 811.45,128.55 812.94,128.97 814.43,129.3 815.92,129.55 817.41,129.72 818.89,129.79 820.38,129.78 821.87,129.68 823.36,129.48 824.85,129.2 826.34,128.84 827.83,128.41 829.32,127.9 830.81,127.34 832.3,126.72 833.79,126.06 835.28,125.37 836.77,124.66 838.26,123.93 839.75,123.21 841.24,122.51 842.73,121.83 844.22,121.18 845.71,120.58 847.2,120.03 848.69,119.55 850.18,119.13 851.67,118.8 853.16,118.55 854.65,118.38 856.14,118.31 857.63,118.32 859.12,118.42 860.61,118.62 862.1,118.9 863.59,119.26 865.08,119.69 866.57,120.2 868.06,120.76 869.55,121.38 871.04,122.04 872.53,122.73 874.02,123.44 875.51,124.17 877,124.89 878.49,125.59 879.98,126.27 881.47,126.92 882.96,127.52 884.45,128.07 885.94,128.55 887.43,128.97 888.92,129.3 890.41,129.55 891.9,129.72 893.39,129.79 894.88,129.78 896.37,129.68 897.86,129.48 899.35,129.2 900.84,128.84 902.33,128.41 903.82,127.9 905.31,127.34 906.8,126.72 908.29,126.06 909.78,125.37 911.27,124.66 912.76,123.94 914.25,123.22 915.74,122.51 917.23,121.83 918.72,121.18 920.21,120.58 921.7,120.03 923.19,119.55 924.68,119.13 926.17,118.8 927.66,118.55 929.15,118.38 930.64,118.31 932.13,118.32 933.62,118.42 935.11,118.62 936.6,118.9 938.09,119.26 939.58,119.69 941.07,120.2 942.56,120.76 944.05,121.38 945.54,122.04 947.03,122.73 948.52,123.44 950.01,124.16 951.5,124.88 952.99,125.59 954.48,126.27 955.97,126.92 957.46,127.52 958.95,128.07 960.44,128.55 961.93,128.97 963.42,129.3 964.91,129.55 966.4,129.72 967.89,129.79 969.38,129.78 970.87,129.68 972.36,129.48 973.85,129.2 975.34,128.84 976.83,128.41 978.32,127.9 979.81,127.34 981.3,126.72" fill="none" stroke="#00ff00" stroke-width="1.8" stroke-linejoin="round" stroke-linecap="butt" /><polyline points="655,196.05 656.49,196.14 657.98,196.29 659.47,196.48 660.96,196.72 662.45,197.01 663.94,197.33 665.43,197.69 666.92,198.09 668.41,198.51 669.9,198.96 671.39,199.42 672.88,199.89 674.37,200.38 675.86,200.86 677.35,201.34 678.84,201.81 680.33,202.26 681.82,202.7 683.31,203.11 684.8,203.49 686.29,203.83 687.78,204.14 689.27,204.4 690.76,204.62 692.25,204.79 693.74,204.91 695.23,204.98 696.72,205 698.21,204.97 699.7,204.88 701.19,204.74 702.68,204.56 704.17,204.33 705.66,204.05 707.15,203.73 708.64,203.38 710.13,202.99 711.62,202.57 713.11,202.13 714.6,201.67 716.09,201.2 717.58,200.72 719.07,200.23 720.56,199.75 722.05,199.28 723.54,198.82 725.03,198.38 726.52,197.97 728.01,197.58 729.5,197.23 730.99,196.92 732.48,196.65 733.97,196.42 735.46,196.24 736.95,196.11 738.44,196.03 739.93,196 741.42,196.02 742.91,196.1 744.4,196.23 745.89,196.4 747.38,196.62 748.87,196.89 750.36,197.2 751.85,197.55 753.34,197.93 754.83,198.34 756.32,198.78 757.81,199.24 759.3,199.71 760.79,200.19 762.28,200.67 763.77,201.15 765.26,201.63 766.75,202.09 768.24,202.53 769.73,202.95 771.22,203.34 772.71,203.7 774.2,204.02 775.69,204.3 777.18,204.54 778.67,204.73 780.16,204.87 781.65,204.96 783.14,205 784.63,204.99 786.12,204.92 787.61,204.8 789.1,204.64 790.59,204.42 792.08,204.16 793.57,203.86 795.06,203.52 796.55,203.15 798.04,202.74 799.53,202.31 801.02,201.85 802.51,201.39 804,200.91 805.49,200.42 806.98,199.94 808.47,199.46 809.96,199 811.45,198.55 812.94,198.13 814.43,197.73 815.92,197.37 817.41,197.04 818.89,196.75 820.38,196.5 821.87,196.3 823.36,196.15 824.85,196.05 826.34,196.01 827.83,196.01 829.32,196.06 830.81,196.17 832.3,196.33 833.79,196.53 835.28,196.78 836.77,197.08 838.26,197.41 839.75,197.78 841.24,198.18 842.73,198.61 844.22,199.06 845.71,199.52 847.2,200 848.69,200.48 850.18,200.97 851.67,201.44 853.16,201.91 854.65,202.36 856.14,202.79 857.63,203.19 859.12,203.56 860.61,203.9 862.1,204.2 863.59,204.45 865.08,204.66 866.57,204.82 868.06,204.93 869.55,204.99 871.04,205 872.53,204.95 874.02,204.86 875.51,204.71 877,204.51 878.49,204.27 879.98,203.99 881.47,203.66 882.96,203.3 884.45,202.9 885.94,202.48 887.43,202.03 888.92,201.57 890.41,201.1 891.9,200.61 893.39,200.13 894.88,199.65 896.37,199.18 897.86,198.73 899.35,198.29 900.84,197.88 902.33,197.51 903.82,197.16 905.31,196.86 906.8,196.59 908.29,196.38 909.78,196.21 911.27,196.09 912.76,196.02 914.25,196 915.74,196.04 917.23,196.12 918.72,196.26 920.21,196.45 921.7,196.68 923.19,196.96 924.68,197.27 926.17,197.63 927.66,198.02 929.15,198.44 930.64,198.88 932.13,199.34 933.62,199.81 935.11,200.29 936.6,200.78 938.09,201.26 939.58,201.73 941.07,202.19 942.56,202.63 944.05,203.04 945.54,203.42 947.03,203.77 948.52,204.09 950.01,204.36 951.5,204.58 952.99,204.76 954.48,204.89 955.97,204.97 957.46,205 958.95,204.98 960.44,204.9 961.93,204.77 963.42,204.59 964.91,204.37 966.4,204.1 967.89,203.79 969.38,203.44 970.87,203.06 972.36,202.65 973.85,202.21 975.34,201.75 976.83,201.28 978.32,200.8 979.81,200.32 981.3,199.84" fill="none" stroke="#00ff00" stroke-width="1.8" stroke-linejoin="round" stroke-linecap="butt" /><polyline points="655,273.37 656.49,272.53 657.98,271.72 659.47,270.96 660.96,270.23 662.45,269.57 663.94,268.95 665.43,268.4 666.92,267.92 668.41,267.51 669.9,267.17 671.39,266.91 672.88,266.73 674.37,266.62 675.86,266.6 677.35,266.66 678.84,266.8 680.33,267.02 681.82,267.32 683.31,267.7 684.8,268.14 686.29,268.66 687.78,269.24 689.27,269.88 690.76,270.58 692.25,271.32 693.74,272.11 695.23,272.93 696.72,273.79 698.21,274.66 699.7,275.56 701.19,276.46 702.68,277.36 704.17,278.26 705.66,279.15 707.15,280.01 708.64,280.85 710.13,281.65 711.62,282.42 713.11,283.13 714.6,283.8 716.09,284.4 717.58,284.95 719.07,285.42 720.56,285.83 722.05,286.16 723.54,286.41 725.03,286.59 726.52,286.68 728.01,286.7 729.5,286.63 730.99,286.48 732.48,286.25 733.97,285.94 735.46,285.56 736.95,285.11 738.44,284.58 739.93,284 741.42,283.35 742.91,282.65 744.4,281.9 745.89,281.11 747.38,280.28 748.87,279.43 750.36,278.55 751.85,277.65 753.34,276.75 754.83,275.85 756.32,274.95 757.81,274.06 759.3,273.2 760.79,272.37 762.28,271.57 763.77,270.81 765.26,270.1 766.75,269.44 768.24,268.84 769.73,268.3 771.22,267.83 772.71,267.43 774.2,267.11 775.69,266.87 777.18,266.7 778.67,266.61 780.16,266.61 781.65,266.68 783.14,266.84 784.63,267.08 786.12,267.39 787.61,267.78 789.1,268.24 790.59,268.77 792.08,269.36 793.57,270.02 795.06,270.72 796.55,271.47 798.04,272.27 799.53,273.1 801.02,273.96 802.51,274.84 804,275.74 805.49,276.64 806.98,277.54 808.47,278.44 809.96,279.32 811.45,280.18 812.94,281.01 814.43,281.81 815.92,282.56 817.41,283.27 818.89,283.92 820.38,284.52 821.87,285.05 823.36,285.51 824.85,285.9 826.34,286.22 827.83,286.45 829.32,286.61 830.81,286.69 832.3,286.69 833.79,286.6 835.28,286.44 836.77,286.19 838.26,285.87 839.75,285.48 841.24,285.01 842.73,284.47 844.22,283.87 845.71,283.22 847.2,282.51 848.69,281.75 850.18,280.95 851.67,280.11 853.16,279.25 854.65,278.37 856.14,277.47 857.63,276.57 859.12,275.67 860.61,274.77 862.1,273.89 863.59,273.03 865.08,272.2 866.57,271.41 868.06,270.66 869.55,269.96 871.04,269.31 872.53,268.73 874.02,268.2 875.51,267.75 877,267.36 878.49,267.06 879.98,266.83 881.47,266.68 882.96,266.61 884.45,266.62 885.94,266.71 887.43,266.88 888.92,267.13 890.41,267.46 891.9,267.87 893.39,268.34 894.88,268.88 896.37,269.49 897.86,270.15 899.35,270.87 900.84,271.63 902.33,272.43 903.82,273.27 905.31,274.13 906.8,275.02 908.29,275.92 909.78,276.82 911.27,277.72 912.76,278.62 914.25,279.5 915.74,280.35 917.23,281.18 918.72,281.96 920.21,282.71 921.7,283.41 923.19,284.05 924.68,284.63 926.17,285.15 927.66,285.59 929.15,285.97 930.64,286.27 932.13,286.49 933.62,286.64 935.11,286.7 936.6,286.68 938.09,286.58 939.58,286.4 941.07,286.14 942.56,285.8 944.05,285.39 945.54,284.91 947.03,284.36 948.52,283.75 950.01,283.08 951.5,282.36 952.99,281.59 954.48,280.79 955.97,279.95 957.46,279.08 958.95,278.19 960.44,277.29 961.93,276.39 963.42,275.49 964.91,274.59 966.4,273.72 967.89,272.87 969.38,272.04 970.87,271.26 972.36,270.52 973.85,269.83 975.34,269.19 976.83,268.62 978.32,268.11 979.81,267.67 981.3,267.3" fill="none" stroke="#00ff00" stroke-width="1.8" stroke-linejoin="round" stroke-linecap="butt" /><polyline points="655,355.28 656.49,353.95 657.98,352.63 659.47,351.3 660.96,349.99 662.45,348.71 663.94,347.44 665.43,346.22 666.92,345.03 668.41,343.89 669.9,342.81 671.39,341.79 672.88,340.83 674.37,339.94 675.86,339.13 677.35,338.4 678.84,337.75 680.33,337.19 681.82,336.73 683.31,336.35 684.8,336.07 686.29,335.89 687.78,335.81 689.27,335.82 690.76,335.93 692.25,336.15 693.74,336.45 695.23,336.86 696.72,337.35 698.21,337.94 699.7,338.61 701.19,339.37 702.68,340.2 704.17,341.11 705.66,342.09 707.15,343.13 708.64,344.23 710.13,345.38 711.62,346.58 713.11,347.82 714.6,349.09 716.09,350.39 717.58,351.7 719.07,353.03 720.56,354.35 722.05,355.68 723.54,356.99 725.03,358.29 726.52,359.56 728.01,360.8 729.5,362 730.99,363.15 732.48,364.25 733.97,365.3 735.46,366.27 736.95,367.19 738.44,368.02 739.93,368.78 741.42,369.45 742.91,370.04 744.4,370.54 745.89,370.94 747.38,371.25 748.87,371.46 750.36,371.58 751.85,371.59 753.34,371.51 754.83,371.33 756.32,371.05 757.81,370.68 759.3,370.21 760.79,369.66 762.28,369.01 763.77,368.28 765.26,367.47 766.75,366.59 768.24,365.63 769.73,364.61 771.22,363.52 772.71,362.39 774.2,361.2 775.69,359.98 777.18,358.71 778.67,357.43 780.16,356.12 781.65,354.8 783.14,353.47 784.63,352.14 786.12,350.82 787.61,349.52 789.1,348.24 790.59,346.99 792.08,345.78 793.57,344.61 795.06,343.49 796.55,342.43 798.04,341.43 799.53,340.5 801.02,339.64 802.51,338.85 804,338.15 805.49,337.54 806.98,337.01 808.47,336.58 809.96,336.24 811.45,335.99 812.94,335.85 814.43,335.8 815.92,335.85 817.41,336 818.89,336.25 820.38,336.59 821.87,337.03 823.36,337.56 824.85,338.17 826.34,338.88 827.83,339.66 829.32,340.53 830.81,341.46 832.3,342.46 833.79,343.53 835.28,344.65 836.77,345.82 838.26,347.03 839.75,348.28 841.24,349.56 842.73,350.87 844.22,352.18 845.71,353.51 847.2,354.84 848.69,356.16 850.18,357.47 851.67,358.76 853.16,360.02 854.65,361.24 856.14,362.43 857.63,363.56 859.12,364.64 860.61,365.66 862.1,366.62 863.59,367.5 865.08,368.31 866.57,369.04 868.06,369.68 869.55,370.23 871.04,370.7 872.53,371.07 874.02,371.34 875.51,371.52 877,371.6 878.49,371.58 879.98,371.46 881.47,371.24 882.96,370.93 884.45,370.52 885.94,370.02 887.43,369.43 888.92,368.75 890.41,367.99 891.9,367.16 893.39,366.24 894.88,365.26 896.37,364.22 897.86,363.11 899.35,361.96 900.84,360.76 902.33,359.52 903.82,358.25 905.31,356.95 906.8,355.63 908.29,354.31 909.78,352.98 911.27,351.66 912.76,350.34 914.25,349.05 915.74,347.78 917.23,346.54 918.72,345.34 920.21,344.19 921.7,343.09 923.19,342.05 924.68,341.08 926.17,340.17 927.66,339.34 929.15,338.59 930.64,337.92 932.13,337.33 933.62,336.84 935.11,336.44 936.6,336.14 938.09,335.93 939.58,335.82 941.07,335.81 942.56,335.89 944.05,336.08 945.54,336.36 947.03,336.74 948.52,337.21 950.01,337.77 951.5,338.42 952.99,339.16 954.48,339.97 955.97,340.86 957.46,341.82 958.95,342.85 960.44,343.93 961.93,345.07 963.42,346.26 964.91,347.49 966.4,348.75 967.89,350.04 969.38,351.35 970.87,352.67 972.36,354 973.85,355.33 975.34,356.64 976.83,357.94 978.32,359.22 979.81,360.47 981.3,361.68" fill="none" stroke="#00ff00" stroke-width="1.8" stroke-linejoin="round" stroke-linecap="butt" /><polyline points="655,444.15 656.49,442.68 657.98,441.17 659.47,439.62 660.96,438.04 662.45,436.43 663.94,434.79 665.43,433.15 666.92,431.5 668.41,429.84 669.9,428.19 671.39,426.54 672.88,424.92 674.37,423.31 675.86,421.74 677.35,420.19 678.84,418.69 680.33,417.23 681.82,415.82 683.31,414.47 684.8,413.17 686.29,411.95 687.78,410.79 689.27,409.71 690.76,408.7 692.25,407.78 693.74,406.94 695.23,406.19 696.72,405.53 698.21,404.97 699.7,404.5 701.19,404.12 702.68,403.85 704.17,403.68 705.66,403.6 707.15,403.63 708.64,403.76 710.13,403.99 711.62,404.31 713.11,404.74 714.6,405.26 716.09,405.88 717.58,406.58 719.07,407.38 720.56,408.27 722.05,409.24 723.54,410.28 725.03,411.41 726.52,412.6 728.01,413.87 729.5,415.19 730.99,416.58 732.48,418.01 733.97,419.5 735.46,421.02 736.95,422.59 738.44,424.18 739.93,425.8 741.42,427.43 742.91,429.08 744.4,430.74 745.89,432.39 747.38,434.04 748.87,435.68 750.36,437.3 751.85,438.9 753.34,440.46 754.83,441.99 756.32,443.48 757.81,444.93 759.3,446.32 760.79,447.65 762.28,448.93 763.77,450.13 765.26,451.27 766.75,452.32 768.24,453.3 769.73,454.2 771.22,455.01 772.71,455.73 774.2,456.36 775.69,456.9 777.18,457.33 778.67,457.68 780.16,457.92 781.65,458.06 783.14,458.1 784.63,458.04 786.12,457.88 787.61,457.62 789.1,457.26 790.59,456.81 792.08,456.25 793.57,455.61 795.06,454.87 796.55,454.04 798.04,453.13 799.53,452.14 801.02,451.06 802.51,449.92 804,448.7 805.49,447.41 806.98,446.07 808.47,444.67 809.96,443.22 811.45,441.72 812.94,440.18 814.43,438.61 815.92,437.01 817.41,435.38 818.89,433.74 820.38,432.09 821.87,430.43 823.36,428.78 824.85,427.13 826.34,425.5 827.83,423.89 829.32,422.3 830.81,420.74 832.3,419.22 833.79,417.75 835.28,416.32 836.77,414.95 838.26,413.63 839.75,412.38 841.24,411.2 842.73,410.09 844.22,409.05 845.71,408.1 847.2,407.23 848.69,406.45 850.18,405.76 851.67,405.16 853.16,404.65 854.65,404.25 856.14,403.94 857.63,403.73 859.12,403.62 860.61,403.61 862.1,403.7 863.59,403.89 865.08,404.18 866.57,404.57 868.06,405.06 869.55,405.64 871.04,406.32 872.53,407.09 874.02,407.94 875.51,408.88 877,409.9 878.49,411 879.98,412.17 881.47,413.41 882.96,414.71 884.45,416.07 885.94,417.49 887.43,418.96 888.92,420.47 890.41,422.02 891.9,423.6 893.39,425.21 894.88,426.84 896.37,428.49 897.86,430.14 899.35,431.8 900.84,433.45 902.33,435.09 903.82,436.72 905.31,438.33 906.8,439.9 908.29,441.45 909.78,442.96 911.27,444.42 912.76,445.83 914.25,447.18 915.74,448.48 917.23,449.71 918.72,450.87 920.21,451.95 921.7,452.96 923.19,453.89 924.68,454.73 926.17,455.48 927.66,456.15 929.15,456.71 930.64,457.19 932.13,457.56 933.62,457.84 935.11,458.02 936.6,458.1 938.09,458.07 939.58,457.95 941.07,457.72 942.56,457.4 944.05,456.98 945.54,456.46 947.03,455.85 948.52,455.14 950.01,454.35 951.5,453.47 952.99,452.5 954.48,451.46 955.97,450.34 957.46,449.14 958.95,447.88 960.44,446.56 961.93,445.18 963.42,443.74 964.91,442.26 966.4,440.74 967.89,439.18 969.38,437.58 970.87,435.97 972.36,434.33 973.85,432.68 975.34,431.03 976.83,429.37 978.32,427.72 979.81,426.08 981.3,424.46" fill="none" stroke="#00ff00" stroke-width="1.8" stroke-linejoin="round" stroke-linecap="butt" /><polyline points="655,533.71 656.49,532.44 657.98,531.12 659.47,529.74 660.96,528.31 662.45,526.83 663.94,525.31 665.43,523.75 666.92,522.16 668.41,520.53 669.9,518.87 671.39,517.19 672.88,515.49 674.37,513.77 675.86,512.03 677.35,510.29 678.84,508.54 680.33,506.79 681.82,505.04 683.31,503.3 684.8,501.56 686.29,499.85 687.78,498.15 689.27,496.47 690.76,494.82 692.25,493.2 693.74,491.61 695.23,490.06 696.72,488.55 698.21,487.08 699.7,485.66 701.19,484.29 702.68,482.98 704.17,481.72 705.66,480.52 707.15,479.39 708.64,478.32 710.13,477.32 711.62,476.38 713.11,475.52 714.6,474.73 716.09,474.02 717.58,473.39 719.07,472.83 720.56,472.35 722.05,471.96 723.54,471.64 725.03,471.41 726.52,471.27 728.01,471.2 729.5,471.22 730.99,471.33 732.48,471.51 733.97,471.78 735.46,472.13 736.95,472.57 738.44,473.08 739.93,473.68 741.42,474.35 742.91,475.1 744.4,475.92 745.89,476.82 747.38,477.78 748.87,478.82 750.36,479.92 751.85,481.08 753.34,482.31 754.83,483.6 756.32,484.94 757.81,486.33 759.3,487.77 760.79,489.26 762.28,490.79 763.77,492.36 765.26,493.96 766.75,495.6 768.24,497.26 769.73,498.95 771.22,500.66 772.71,502.38 774.2,504.12 775.69,505.87 777.18,507.62 778.67,509.37 780.16,511.11 781.65,512.85 783.14,514.58 784.63,516.3 786.12,517.99 787.61,519.66 789.1,521.31 790.59,522.92 792.08,524.5 793.57,526.04 795.06,527.54 796.55,528.99 798.04,530.4 799.53,531.75 801.02,533.05 802.51,534.29 804,535.48 805.49,536.6 806.98,537.65 808.47,538.63 809.96,539.55 811.45,540.39 812.94,541.16 814.43,541.85 815.92,542.47 817.41,543 818.89,543.46 820.38,543.83 821.87,544.12 823.36,544.33 824.85,544.46 826.34,544.5 827.83,544.46 829.32,544.33 830.81,544.12 832.3,543.83 833.79,543.46 835.28,543.01 836.77,542.47 838.26,541.86 839.75,541.16 841.24,540.4 842.73,539.55 844.22,538.64 845.71,537.66 847.2,536.6 848.69,535.48 850.18,534.3 851.67,533.06 853.16,531.76 854.65,530.41 856.14,529 857.63,527.55 859.12,526.05 860.61,524.51 862.1,522.93 863.59,521.32 865.08,519.67 866.57,518 868.06,516.31 869.55,514.6 871.04,512.87 872.53,511.13 874.02,509.38 875.51,507.63 877,505.88 878.49,504.13 879.98,502.39 881.47,500.67 882.96,498.96 884.45,497.27 885.94,495.61 887.43,493.97 888.92,492.37 890.41,490.8 891.9,489.27 893.39,487.78 894.88,486.34 896.37,484.95 897.86,483.6 899.35,482.32 900.84,481.09 902.33,479.93 903.82,478.82 905.31,477.79 906.8,476.82 908.29,475.93 909.78,475.1 911.27,474.35 912.76,473.68 914.25,473.09 915.74,472.57 917.23,472.14 918.72,471.78 920.21,471.51 921.7,471.33 923.19,471.22 924.68,471.2 926.17,471.27 927.66,471.41 929.15,471.64 930.64,471.96 932.13,472.35 933.62,472.83 935.11,473.38 936.6,474.02 938.09,474.73 939.58,475.51 941.07,476.38 942.56,477.31 944.05,478.31 945.54,479.38 947.03,480.52 948.52,481.71 950.01,482.97 951.5,484.29 952.99,485.65 954.48,487.07 955.97,488.54 957.46,490.05 958.95,491.6 960.44,493.19 961.93,494.81 963.42,496.46 964.91,498.14 966.4,499.83 967.89,501.55 969.38,503.28 970.87,505.03 972.36,506.77 973.85,508.53 975.34,510.28 976.83,512.02 978.32,513.75 979.81,515.48 981.3,517.18" fill="none" stroke="#00ff00" stroke-width="1.8" stroke-linejoin="round" stroke-linecap="butt" /><polyline points="655,624.83 656.49,623.96 657.98,623.04 659.47,622.06 660.96,621.03 662.45,619.95 663.94,618.82 665.43,617.64 666.92,616.42 668.41,615.15 669.9,613.84 671.39,612.49 672.88,611.09 674.37,609.66 675.86,608.2 677.35,606.7 678.84,605.17 680.33,603.6 681.82,602.02 683.31,600.4 684.8,598.76 686.29,597.1 687.78,595.43 689.27,593.73 690.76,592.02 692.25,590.3 693.74,588.57 695.23,586.83 696.72,585.09 698.21,583.34 699.7,581.59 701.19,579.85 702.68,578.11 704.17,576.37 705.66,574.65 707.15,572.94 708.64,571.23 710.13,569.55 711.62,567.88 713.11,566.24 714.6,564.61 716.09,563.01 717.58,561.44 719.07,559.9 720.56,558.38 722.05,556.9 723.54,555.46 725.03,554.05 726.52,552.68 728.01,551.36 729.5,550.07 730.99,548.83 732.48,547.63 733.97,546.48 735.46,545.38 736.95,544.34 738.44,543.34 739.93,542.4 741.42,541.51 742.91,540.67 744.4,539.9 745.89,539.18 747.38,538.52 748.87,537.92 750.36,537.37 751.85,536.9 753.34,536.48 754.83,536.12 756.32,535.83 757.81,535.6 759.3,535.44 760.79,535.34 762.28,535.3 763.77,535.33 765.26,535.42 766.75,535.57 768.24,535.79 769.73,536.07 771.22,536.42 772.71,536.82 774.2,537.29 775.69,537.82 777.18,538.41 778.67,539.06 780.16,539.77 781.65,540.54 783.14,541.36 784.63,542.24 786.12,543.18 787.61,544.17 789.1,545.21 790.59,546.3 792.08,547.44 793.57,548.63 795.06,549.86 796.55,551.14 798.04,552.46 799.53,553.82 801.02,555.22 802.51,556.66 804,558.14 805.49,559.64 806.98,561.18 808.47,562.75 809.96,564.35 811.45,565.97 812.94,567.61 814.43,569.27 815.92,570.95 817.41,572.65 818.89,574.36 820.38,576.09 821.87,577.82 823.36,579.56 824.85,581.31 826.34,583.05 827.83,584.8 829.32,586.54 830.81,588.28 832.3,590.02 833.79,591.74 835.28,593.45 836.77,595.15 838.26,596.83 839.75,598.49 841.24,600.13 842.73,601.75 844.22,603.34 845.71,604.91 847.2,606.45 848.69,607.95 850.18,609.42 851.67,610.86 853.16,612.26 854.65,613.62 856.14,614.94 857.63,616.21 859.12,617.45 860.61,618.63 862.1,619.77 863.59,620.86 865.08,621.89 866.57,622.88 868.06,623.81 869.55,624.69 871.04,625.51 872.53,626.27 874.02,626.98 875.51,627.62 877,628.21 878.49,628.74 879.98,629.2 881.47,629.61 882.96,629.95 884.45,630.22 885.94,630.44 887.43,630.59 888.92,630.68 890.41,630.7 891.9,630.66 893.39,630.55 894.88,630.38 896.37,630.15 897.86,629.86 899.35,629.5 900.84,629.08 902.33,628.59 903.82,628.05 905.31,627.45 906.8,626.78 908.29,626.06 909.78,625.28 911.27,624.44 912.76,623.55 914.25,622.6 915.74,621.6 917.23,620.55 918.72,619.45 920.21,618.3 921.7,617.1 923.19,615.85 924.68,614.57 926.17,613.24 927.66,611.86 929.15,610.45 930.64,609.01 932.13,607.53 933.62,606.01 935.11,604.47 936.6,602.89 938.09,601.29 939.58,599.67 941.07,598.02 942.56,596.35 944.05,594.66 945.54,592.96 947.03,591.25 948.52,589.52 950.01,587.79 951.5,586.05 952.99,584.3 954.48,582.55 955.97,580.81 957.46,579.06 958.95,577.33 960.44,575.6 961.93,573.87 963.42,572.17 964.91,570.47 966.4,568.8 967.89,567.14 969.38,565.5 970.87,563.89 972.36,562.3 973.85,560.74 975.34,559.21 976.83,557.71 978.32,556.25 979.81,554.82 981.3,553.43" fill="none" stroke="#00ff00" stroke-width="1.8" stroke-linejoin="round" stroke-linecap="butt" /><polyline points="655,713.64 656.49,713.05 657.98,712.42 659.47,711.75 660.96,711.03 662.45,710.28 663.94,709.49 665.43,708.66 666.92,707.8 668.41,706.9 669.9,705.96 671.39,704.99 672.88,703.98 674.37,702.94 675.86,701.86 677.35,700.75 678.84,699.61 680.33,698.44 681.82,697.24 683.31,696.01 684.8,694.75 686.29,693.47 687.78,692.15 689.27,690.82 690.76,689.45 692.25,688.07 693.74,686.66 695.23,685.23 696.72,683.78 698.21,682.31 699.7,680.82 701.19,679.31 702.68,677.79 704.17,676.25 705.66,674.7 707.15,673.13 708.64,671.55 710.13,669.97 711.62,668.37 713.11,666.76 714.6,665.15 716.09,663.53 717.58,661.9 719.07,660.27 720.56,658.64 722.05,657.01 723.54,655.37 725.03,653.74 726.52,652.11 728.01,650.48 729.5,648.85 730.99,647.23 732.48,645.62 733.97,644.02 735.46,642.42 736.95,640.84 738.44,639.26 739.93,637.7 741.42,636.15 742.91,634.62 744.4,633.1 745.89,631.59 747.38,630.11 748.87,628.64 750.36,627.2 751.85,625.77 753.34,624.37 754.83,622.99 756.32,621.63 757.81,620.3 759.3,619 760.79,617.72 762.28,616.47 763.77,615.25 765.26,614.05 766.75,612.89 768.24,611.76 769.73,610.66 771.22,609.59 772.71,608.56 774.2,607.56 775.69,606.59 777.18,605.67 778.67,604.77 780.16,603.92 781.65,603.1 783.14,602.32 784.63,601.58 786.12,600.88 787.61,600.21 789.1,599.59 790.59,599.01 792.08,598.47 793.57,597.97 795.06,597.51 796.55,597.1 798.04,596.73 799.53,596.4 801.02,596.11 802.51,595.87 804,595.67 805.49,595.51 806.98,595.4 808.47,595.33 809.96,595.3 811.45,595.32 812.94,595.38 814.43,595.48 815.92,595.63 817.41,595.82 818.89,596.06 820.38,596.34 821.87,596.66 823.36,597.02 824.85,597.43 826.34,597.88 827.83,598.37 829.32,598.9 830.81,599.48 832.3,600.09 833.79,600.74 835.28,601.44 836.77,602.17 838.26,602.94 839.75,603.76 841.24,604.6 842.73,605.49 844.22,606.41 845.71,607.37 847.2,608.36 848.69,609.39 850.18,610.45 851.67,611.54 853.16,612.67 854.65,613.82 856.14,615.01 857.63,616.23 859.12,617.47 860.61,618.75 862.1,620.05 863.59,621.37 865.08,622.73 866.57,624.1 868.06,625.5 869.55,626.92 871.04,628.36 872.53,629.82 874.02,631.3 875.51,632.8 877,634.32 878.49,635.85 879.98,637.4 881.47,638.96 882.96,640.53 884.45,642.11 885.94,643.71 887.43,645.31 888.92,646.92 890.41,648.54 891.9,650.16 893.39,651.79 894.88,653.42 896.37,655.05 897.86,656.69 899.35,658.32 900.84,659.95 902.33,661.58 903.82,663.21 905.31,664.83 906.8,666.45 908.29,668.06 909.78,669.66 911.27,671.25 912.76,672.83 914.25,674.39 915.74,675.95 917.23,677.49 918.72,679.02 920.21,680.53 921.7,682.02 923.19,683.49 924.68,684.95 926.17,686.38 927.66,687.8 929.15,689.19 930.64,690.55 932.13,691.9 933.62,693.21 935.11,694.51 936.6,695.77 938.09,697 939.58,698.21 941.07,699.39 942.56,700.53 944.05,701.65 945.54,702.73 947.03,703.78 948.52,704.79 950.01,705.77 951.5,706.72 952.99,707.63 954.48,708.5 955.97,709.33 957.46,710.13 958.95,710.89 960.44,711.61 961.93,712.29 963.42,712.93 964.91,713.53 966.4,714.09 967.89,714.61 969.38,715.08 970.87,715.52 972.36,715.91 973.85,716.26 975.34,716.56 976.83,716.83 978.32,717.05 979.81,717.22 981.3,717.36" fill="none" stroke="#00ff00" stroke-width="1.8" stroke-linejoin="round" stroke-linecap="butt" /><polyline points="655,802.73 656.49,802.41 657.98,802.07 659.47,801.7 660.96,801.3 662.45,800.88 663.94,800.43 665.43,799.96 666.92,799.46 668.41,798.94 669.9,798.39 671.39,797.82 672.88,797.22 674.37,796.6 675.86,795.95 677.35,795.28 678.84,794.59 680.33,793.87 681.82,793.13 683.31,792.37 684.8,791.58 686.29,790.77 687.78,789.94 689.27,789.09 690.76,788.21 692.25,787.32 693.74,786.4 695.23,785.47 696.72,784.51 698.21,783.53 699.7,782.53 701.19,781.52 702.68,780.48 704.17,779.43 705.66,778.36 707.15,777.27 708.64,776.16 710.13,775.03 711.62,773.89 713.11,772.73 714.6,771.56 716.09,770.37 717.58,769.17 719.07,767.95 720.56,766.71 722.05,765.47 723.54,764.21 725.03,762.93 726.52,761.65 728.01,760.35 729.5,759.04 730.99,757.72 732.48,756.38 733.97,755.04 735.46,753.69 736.95,752.33 738.44,750.96 739.93,749.58 741.42,748.19 742.91,746.8 744.4,745.4 745.89,743.99 747.38,742.57 748.87,741.16 750.36,739.73 751.85,738.3 753.34,736.87 754.83,735.43 756.32,733.99 757.81,732.55 759.3,731.11 760.79,729.66 762.28,728.21 763.77,726.76 765.26,725.32 766.75,723.87 768.24,722.42 769.73,720.98 771.22,719.53 772.71,718.09 774.2,716.66 775.69,715.22 777.18,713.79 778.67,712.36 780.16,710.94 781.65,709.53 783.14,708.12 784.63,706.71 786.12,705.32 787.61,703.93 789.1,702.54 790.59,701.17 792.08,699.81 793.57,698.45 795.06,697.1 796.55,695.77 798.04,694.44 799.53,693.13 801.02,691.83 802.51,690.54 804,689.26 805.49,687.99 806.98,686.74 808.47,685.5 809.96,684.28 811.45,683.07 812.94,681.87 814.43,680.69 815.92,679.53 817.41,678.38 818.89,677.25 820.38,676.14 821.87,675.04 823.36,673.96 824.85,672.9 826.34,671.86 827.83,670.83 829.32,669.83 830.81,668.84 832.3,667.88 833.79,666.94 835.28,666.01 836.77,665.11 838.26,664.23 839.75,663.37 841.24,662.53 842.73,661.71 844.22,660.92 845.71,660.14 847.2,659.39 848.69,658.67 850.18,657.97 851.67,657.29 853.16,656.63 854.65,656 856.14,655.4 857.63,654.81 859.12,654.26 860.61,653.72 862.1,653.22 863.59,652.73 865.08,652.28 866.57,651.85 868.06,651.44 869.55,651.06 871.04,650.71 872.53,650.38 874.02,650.08 875.51,649.81 877,649.56 878.49,649.34 879.98,649.14 881.47,648.97 882.96,648.83 884.45,648.72 885.94,648.63 887.43,648.57 888.92,648.53 890.41,648.52 891.9,648.54 893.39,648.59 894.88,648.66 896.37,648.76 897.86,648.89 899.35,649.04 900.84,649.22 902.33,649.43 903.82,649.66 905.31,649.92 906.8,650.21 908.29,650.52 909.78,650.86 911.27,651.23 912.76,651.62 914.25,652.03 915.74,652.48 917.23,652.94 918.72,653.44 920.21,653.96 921.7,654.5 923.19,655.07 924.68,655.66 926.17,656.28 927.66,656.92 929.15,657.59 930.64,658.27 932.13,658.99 933.62,659.72 935.11,660.48 936.6,661.26 938.09,662.07 939.58,662.9 941.07,663.74 942.56,664.61 944.05,665.51 945.54,666.42 947.03,667.35 948.52,668.3 950.01,669.28 951.5,670.27 952.99,671.28 954.48,672.32 955.97,673.37 957.46,674.44 958.95,675.52 960.44,676.63 961.93,677.75 963.42,678.89 964.91,680.04 966.4,681.21 967.89,682.4 969.38,683.6 970.87,684.82 972.36,686.05 973.85,687.29 975.34,688.55 976.83,689.82 978.32,691.11 979.81,692.4 981.3,693.71" fill="none" stroke="#00ff00" stroke-width="1.8" stroke-linejoin="round" stroke-linecap="butt" /><polyline points="655,890.37 656.49,890.24 657.98,890.09 659.47,889.92 660.96,889.75 662.45,889.56 663.94,889.36 665.43,889.15 666.92,888.92 668.41,888.68 669.9,888.43 671.39,888.16 672.88,887.89 674.37,887.6 675.86,887.3 677.35,886.98 678.84,886.65 680.33,886.31 681.82,885.96 683.31,885.6 684.8,885.22 686.29,884.83 687.78,884.43 689.27,884.02 690.76,883.59 692.25,883.15 693.74,882.71 695.23,882.24 696.72,881.77 698.21,881.28 699.7,880.79 701.19,880.28 702.68,879.76 704.17,879.23 705.66,878.68 707.15,878.13 708.64,877.56 710.13,876.98 711.62,876.39 713.11,875.79 714.6,875.18 716.09,874.56 717.58,873.93 719.07,873.28 720.56,872.63 722.05,871.96 723.54,871.28 725.03,870.6 726.52,869.9 728.01,869.19 729.5,868.47 730.99,867.74 732.48,867 733.97,866.26 735.46,865.5 736.95,864.73 738.44,863.95 739.93,863.16 741.42,862.36 742.91,861.55 744.4,860.74 745.89,859.91 747.38,859.08 748.87,858.23 750.36,857.38 751.85,856.52 753.34,855.64 754.83,854.76 756.32,853.87 757.81,852.98 759.3,852.07 760.79,851.16 762.28,850.24 763.77,849.31 765.26,848.37 766.75,847.42 768.24,846.47 769.73,845.51 771.22,844.54 772.71,843.56 774.2,842.58 775.69,841.59 777.18,840.59 778.67,839.59 780.16,838.57 781.65,837.56 783.14,836.53 784.63,835.5 786.12,834.46 787.61,833.42 789.1,832.37 790.59,831.32 792.08,830.26 793.57,829.19 795.06,828.12 796.55,827.04 798.04,825.96 799.53,824.87 801.02,823.78 802.51,822.68 804,821.57 805.49,820.47 806.98,819.36 808.47,818.24 809.96,817.12 811.45,815.99 812.94,814.87 814.43,813.73 815.92,812.6 817.41,811.46 818.89,810.32 820.38,809.17 821.87,808.02 823.36,806.87 824.85,805.71 826.34,804.56 827.83,803.4 829.32,802.23 830.81,801.07 832.3,799.9 833.79,798.73 835.28,797.56 836.77,796.39 838.26,795.21 839.75,794.04 841.24,792.86 842.73,791.68 844.22,790.5 845.71,789.32 847.2,788.14 848.69,786.96 850.18,785.78 851.67,784.59 853.16,783.41 854.65,782.23 856.14,781.05 857.63,779.87 859.12,778.68 860.61,777.5 862.1,776.32 863.59,775.14 865.08,773.96 866.57,772.79 868.06,771.61 869.55,770.43 871.04,769.26 872.53,768.09 874.02,766.92 875.51,765.75 877,764.59 878.49,763.42 879.98,762.26 881.47,761.1 882.96,759.95 884.45,758.79 885.94,757.64 887.43,756.49 888.92,755.35 890.41,754.21 891.9,753.07 893.39,751.94 894.88,750.81 896.37,749.68 897.86,748.56 899.35,747.44 900.84,746.33 902.33,745.22 903.82,744.11 905.31,743.01 906.8,741.92 908.29,740.83 909.78,739.74 911.27,738.66 912.76,737.59 914.25,736.52 915.74,735.46 917.23,734.4 918.72,733.35 920.21,732.3 921.7,731.26 923.19,730.23 924.68,729.2 926.17,728.18 927.66,727.17 929.15,726.16 930.64,725.16 932.13,724.17 933.62,723.18 935.11,722.2 936.6,721.23 938.09,720.26 939.58,719.31 941.07,718.36 942.56,717.42 944.05,716.48 945.54,715.56 947.03,714.64 948.52,713.73 950.01,712.83 951.5,711.94 952.99,711.06 954.48,710.18 955.97,709.31 957.46,708.46 958.95,707.61 960.44,706.77 961.93,705.94 963.42,705.12 964.91,704.31 966.4,703.5 967.89,702.71 969.38,701.93 970.87,701.16 972.36,700.39 973.85,699.64 975.34,698.9 976.83,698.16 978.32,697.44 979.81,696.73 981.3,696.03" fill="none" stroke="#00ff00" stroke-width="1.8" stroke-linejoin="round" stroke-linecap="butt" /><polyline points="655,975.39 656.49,975.34 657.98,975.29 659.47,975.23 660.96,975.16 662.45,975.09 663.94,975.01 665.43,974.93 666.92,974.84 668.41,974.75 669.9,974.65 671.39,974.54 672.88,974.43 674.37,974.32 675.86,974.2 677.35,974.07 678.84,973.94 680.33,973.8 681.82,973.66 683.31,973.51 684.8,973.36 686.29,973.2 687.78,973.04 689.27,972.87 690.76,972.7 692.25,972.52 693.74,972.33 695.23,972.14 696.72,971.94 698.21,971.74 699.7,971.54 701.19,971.33 702.68,971.11 704.17,970.89 705.66,970.66 707.15,970.43 708.64,970.19 710.13,969.94 711.62,969.69 713.11,969.44 714.6,969.18 716.09,968.92 717.58,968.65 719.07,968.37 720.56,968.09 722.05,967.81 723.54,967.52 725.03,967.22 726.52,966.92 728.01,966.61 729.5,966.3 730.99,965.98 732.48,965.66 733.97,965.33 735.46,965 736.95,964.66 738.44,964.32 739.93,963.97 741.42,963.62 742.91,963.26 744.4,962.9 745.89,962.53 747.38,962.16 748.87,961.78 750.36,961.4 751.85,961.01 753.34,960.62 754.83,960.22 756.32,959.82 757.81,959.41 759.3,958.99 760.79,958.58 762.28,958.15 763.77,957.72 765.26,957.29 766.75,956.85 768.24,956.41 769.73,955.96 771.22,955.51 772.71,955.05 774.2,954.59 775.69,954.12 777.18,953.65 778.67,953.17 780.16,952.69 781.65,952.2 783.14,951.71 784.63,951.22 786.12,950.72 787.61,950.21 789.1,949.7 790.59,949.18 792.08,948.66 793.57,948.14 795.06,947.61 796.55,947.08 798.04,946.54 799.53,945.99 801.02,945.45 802.51,944.89 804,944.34 805.49,943.78 806.98,943.21 808.47,942.64 809.96,942.06 811.45,941.48 812.94,940.9 814.43,940.31 815.92,939.72 817.41,939.12 818.89,938.52 820.38,937.91 821.87,937.3 823.36,936.69 824.85,936.07 826.34,935.44 827.83,934.82 829.32,934.18 830.81,933.55 832.3,932.9 833.79,932.26 835.28,931.61 836.77,930.96 838.26,930.3 839.75,929.64 841.24,928.97 842.73,928.3 844.22,927.63 845.71,926.95 847.2,926.26 848.69,925.58 850.18,924.89 851.67,924.19 853.16,923.49 854.65,922.79 856.14,922.08 857.63,921.37 859.12,920.66 860.61,919.94 862.1,919.22 863.59,918.49 865.08,917.76 866.57,917.03 868.06,916.29 869.55,915.55 871.04,914.8 872.53,914.05 874.02,913.3 875.51,912.54 877,911.78 878.49,911.02 879.98,910.25 881.47,909.48 882.96,908.7 884.45,907.92 885.94,907.14 887.43,906.36 888.92,905.57 890.41,904.77 891.9,903.98 893.39,903.18 894.88,902.38 896.37,901.57 897.86,900.76 899.35,899.95 900.84,899.13 902.33,898.31 903.82,897.49 905.31,896.66 906.8,895.83 908.29,895 909.78,894.16 911.27,893.32 912.76,892.48 914.25,891.64 915.74,890.79 917.23,889.94 918.72,889.08 920.21,888.22 921.7,887.36 923.19,886.5 924.68,885.63 926.17,884.76 927.66,883.89 929.15,883.01 930.64,882.14 932.13,881.25 933.62,880.37 935.11,879.48 936.6,878.59 938.09,877.7 939.58,876.81 941.07,875.91 942.56,875.01 944.05,874.11 945.54,873.2 947.03,872.29 948.52,871.38 950.01,870.47 951.5,869.55 952.99,868.63 954.48,867.71 955.97,866.79 957.46,865.86 958.95,864.93 960.44,864 961.93,863.07 963.42,862.14 964.91,861.2 966.4,860.26 967.89,859.32 969.38,858.37 970.87,857.43 972.36,856.48 973.85,855.53 975.34,854.57 976.83,853.62 978.32,852.66 979.81,851.7 981.3,850.74" fill="none" stroke="#00ff00" stroke-width="1.8" stroke-linejoin="round" stroke-linecap="butt" /><polyline points="655,1061.16 656.49,1061.14 657.98,1061.13 659.47,1061.11 660.96,1061.09 662.45,1061.07 663.94,1061.05 665.43,1061.03 666.92,1061 668.41,1060.97 669.9,1060.94 671.39,1060.91 672.88,1060.88 674.37,1060.85 675.86,1060.81 677.35,1060.77 678.84,1060.73 680.33,1060.69 681.82,1060.65 683.31,1060.61 684.8,1060.56 686.29,1060.51 687.78,1060.46 689.27,1060.41 690.76,1060.36 692.25,1060.3 693.74,1060.25 695.23,1060.19 696.72,1060.13 698.21,1060.07 699.7,1060 701.19,1059.94 702.68,1059.87 704.17,1059.81 705.66,1059.74 707.15,1059.66 708.64,1059.59 710.13,1059.52 711.62,1059.44 713.11,1059.36 714.6,1059.28 716.09,1059.2 717.58,1059.12 719.07,1059.03 720.56,1058.95 722.05,1058.86 723.54,1058.77 725.03,1058.68 726.52,1058.58 728.01,1058.49 729.5,1058.39 730.99,1058.3 732.48,1058.2 733.97,1058.09 735.46,1057.99 736.95,1057.89 738.44,1057.78 739.93,1057.67 741.42,1057.56 742.91,1057.45 744.4,1057.34 745.89,1057.23 747.38,1057.11 748.87,1057 750.36,1056.88 751.85,1056.76 753.34,1056.63 754.83,1056.51 756.32,1056.39 757.81,1056.26 759.3,1056.13 760.79,1056 762.28,1055.87 763.77,1055.74 765.26,1055.6 766.75,1055.47 768.24,1055.33 769.73,1055.19 771.22,1055.05 772.71,1054.91 774.2,1054.77 775.69,1054.62 777.18,1054.47 778.67,1054.33 780.16,1054.18 781.65,1054.03 783.14,1053.87 784.63,1053.72 786.12,1053.56 787.61,1053.41 789.1,1053.25 790.59,1053.09 792.08,1052.93 793.57,1052.77 795.06,1052.6 796.55,1052.44 798.04,1052.27 799.53,1052.1 801.02,1051.93 802.51,1051.76 804,1051.59 805.49,1051.41 806.98,1051.24 808.47,1051.06 809.96,1050.88 811.45,1050.71 812.94,1050.52 814.43,1050.34 815.92,1050.16 817.41,1049.97 818.89,1049.79 820.38,1049.6 821.87,1049.41 823.36,1049.22 824.85,1049.03 826.34,1048.84 827.83,1048.64 829.32,1048.45 830.81,1048.25 832.3,1048.05 833.79,1047.85 835.28,1047.65 836.77,1047.45 838.26,1047.25 839.75,1047.05 841.24,1046.84 842.73,1046.63 844.22,1046.43 845.71,1046.22 847.2,1046.01 848.69,1045.79 850.18,1045.58 851.67,1045.37 853.16,1045.15 854.65,1044.94 856.14,1044.72 857.63,1044.5 859.12,1044.28 860.61,1044.06 862.1,1043.84 863.59,1043.61 865.08,1043.39 866.57,1043.16 868.06,1042.94 869.55,1042.71 871.04,1042.48 872.53,1042.25 874.02,1042.02 875.51,1041.79 877,1041.56 878.49,1041.32 879.98,1041.09 881.47,1040.85 882.96,1040.61 884.45,1040.38 885.94,1040.14 887.43,1039.9 888.92,1039.66 890.41,1039.41 891.9,1039.17 893.39,1038.93 894.88,1038.68 896.37,1038.44 897.86,1038.19 899.35,1037.94 900.84,1037.69 902.33,1037.44 903.82,1037.19 905.31,1036.94 906.8,1036.69 908.29,1036.43 909.78,1036.18 911.27,1035.92 912.76,1035.67 914.25,1035.41 915.74,1035.15 917.23,1034.9 918.72,1034.64 920.21,1034.38 921.7,1034.12 923.19,1033.85 924.68,1033.59 926.17,1033.33 927.66,1033.06 929.15,1032.8 930.64,1032.53 932.13,1032.27 933.62,1032 935.11,1031.73 936.6,1031.46 938.09,1031.2 939.58,1030.93 941.07,1030.65 942.56,1030.38 944.05,1030.11 945.54,1029.84 947.03,1029.57 948.52,1029.29 950.01,1029.02 951.5,1028.74 952.99,1028.47 954.48,1028.19 955.97,1027.91 957.46,1027.64 958.95,1027.36 960.44,1027.08 961.93,1026.8 963.42,1026.52 964.91,1026.24 966.4,1025.96 967.89,1025.68 969.38,1025.4 970.87,1025.11 972.36,1024.83 973.85,1024.55 975.34,1024.26 976.83,1023.98 978.32,1023.7 979.81,1023.41 981.3,1023.13" fill="none" stroke="#00ff00" stroke-width="1.8" stroke-linejoin="round" stroke-linecap="butt" /></g><polyline points="655,58.5 697.5,41.5 733,58.3 768.6,41.1 804,51.65 839.5,43.3 875,48.85 910.5,48.2 945.7,38.95 981.2,52.35" fill="none" stroke="#000000" stroke-width="1.5" stroke-linejoin="round" stroke-linecap="butt" /><polyline points="655,123 697.5,129.55 733,121.1 768.6,126.95 804,125.1 839.5,122.95 875,127.8 910.5,126.1 945.7,122.05 981.2,123.55" fill="none" stroke="#000000" stroke-width="1.5" stroke-linejoin="round" stroke-linecap="butt" /><polyline points="655,202.45 697.5,202.45 733,211.1 768.6,189 804,212.65 839.5,193.7 875,209.15 910.5,198.85 945.7,194.35 981.2,206.95" fill="none" stroke="#000000" stroke-width="1.5" stroke-linejoin="round" stroke-linecap="butt" /><polyline points="655,280.45 697.5,254.6 733,307.15 768.6,270.15 804,259.85 839.5,304.8 875,270.15 910.5,261 945.7,301.45 981.2,255" fill="none" stroke="#000000" stroke-width="1.5" stroke-linejoin="round" stroke-linecap="butt" /><polyline points="655,364.3 697.5,319.45 733,367.2 768.6,392.7 804,332.6 839.5,332.6 875,391.9 910.5,354.5 945.7,318.65 981.2,367.45" fill="none" stroke="#000000" stroke-width="1.5" stroke-linejoin="round" stroke-linecap="butt" /><polyline points="655,460 697.5,386.4 733,405.4 768.6,464.5 804,478.3 839.5,410.5 875,394.7 910.5,437.8 945.7,484.1 981.2,428.5" fill="none" stroke="#000000" stroke-width="1.5" stroke-linejoin="round" stroke-linecap="butt" /><polyline points="655,555.3 697.5,485 733,446 768.6,481.6 804,554.5 839.5,567.8 875,522.3 910.5,449.3 945.7,463.1 981.2,521.2" fill="none" stroke="#000000" stroke-width="1.5" stroke-linejoin="round" stroke-linecap="butt" /><polyline points="655,649.4 697.5,589.8 733,540.4 768.6,519 804,547.9 839.5,605.8 875,655.4 910.5,644.4 945.7,599.8 981.2,529.2" fill="none" stroke="#000000" stroke-width="1.5" stroke-linejoin="round" stroke-linecap="butt" /><polyline points="655,737 697.5,708.7 733,651.2 768.6,608.8 804,584.6 839.5,587.9 875,631.4 910.5,670.5 945.7,726.7 981.2,741.1" fill="none" stroke="#000000" stroke-width="1.5" stroke-linejoin="round" stroke-linecap="butt" /><polyline points="655,824.5 697.5,802.4 733,774.3 768.6,738.2 804,697.5 839.5,671.9 875,665.3 910.5,644.4 945.7,678.8 981.2,710.5" fill="none" stroke="#000000" stroke-width="1.5" stroke-linejoin="round" stroke-linecap="butt" /><polyline points="655,912.1 697.5,903.9 733,892.3 768.6,870.1 804,846.3 839.5,820.4 875,795.7 910.5,766.7 945.7,747.2 981.2,721.3" fill="none" stroke="#000000" stroke-width="1.5" stroke-linejoin="round" stroke-linecap="butt" /><polyline points="655,988.5 697.5,988.5 733,981.3 768.6,975.6 804,969.5 839.5,955.8 875,949.9 910.5,920.8 945.7,912.6 981.2,903" fill="none" stroke="#000000" stroke-width="1.5" stroke-linejoin="round" stroke-linecap="butt" /><polyline points="655,1067 697.5,1070.1 733,1067.75 768.6,1065.25 804,1070.45 839.5,1061.3 875,1061.65 910.5,1051.75 945.7,1054.8 981.2,1044.6" fill="none" stroke="#000000" stroke-width="1.5" stroke-linejoin="round" stroke-linecap="butt" /><circle cx="655" cy="58.5" r="6.1" fill="#d3d3d3"/><circle cx="697.5" cy="41.5" r="6.1" fill="#c0c0c0"/><circle cx="733" cy="58.3" r="6.1" fill="#aaaaaa"/><circle cx="768.6" cy="41.1" r="6.1" fill="#9a9a9a"/><circle cx="804" cy="51.65" r="6.1" fill="#898989"/><circle cx="839.5" cy="43.3" r="6.1" fill="#787878"/><circle cx="875" cy="48.85" r="6.1" fill="#676767"/><circle cx="910.5" cy="48.2" r="6.1" fill="#565656"/><circle cx="945.7" cy="38.95" r="6.1" fill="#454545"/><circle cx="981.2" cy="52.35" r="6.1" fill="#2b2b2b"/><circle cx="655" cy="123" r="6.1" fill="#d3d3d3"/><circle cx="697.5" cy="129.55" r="6.1" fill="#c0c0c0"/><circle cx="733" cy="121.1" r="6.1" fill="#aaaaaa"/><circle cx="768.6" cy="126.95" r="6.1" fill="#9a9a9a"/><circle cx="804" cy="125.1" r="6.1" fill="#898989"/><circle cx="839.5" cy="122.95" r="6.1" fill="#787878"/><circle cx="875" cy="127.8" r="6.1" fill="#676767"/><circle cx="910.5" cy="126.1" r="6.1" fill="#565656"/><circle cx="945.7" cy="122.05" r="6.1" fill="#454545"/><circle cx="981.2" cy="123.55" r="6.1" fill="#2b2b2b"/><circle cx="655" cy="202.45" r="6.1" fill="#d3d3d3"/><circle cx="697.5" cy="202.45" r="6.1" fill="#c0c0c0"/><circle cx="733" cy="211.1" r="6.1" fill="#aaaaaa"/><circle cx="768.6" cy="189" r="6.1" fill="#9a9a9a"/><circle cx="804" cy="212.65" r="6.1" fill="#898989"/><circle cx="839.5" cy="193.7" r="6.1" fill="#787878"/><circle cx="875" cy="209.15" r="6.1" fill="#676767"/><circle cx="910.5" cy="198.85" r="6.1" fill="#565656"/><circle cx="945.7" cy="194.35" r="6.1" fill="#454545"/><circle cx="981.2" cy="206.95" r="6.1" fill="#2b2b2b"/><circle cx="655" cy="280.45" r="6.1" fill="#d3d3d3"/><circle cx="697.5" cy="254.6" r="6.1" fill="#c0c0c0"/><circle cx="733" cy="307.15" r="6.1" fill="#aaaaaa"/><circle cx="768.6" cy="270.15" r="6.1" fill="#9a9a9a"/><circle cx="804" cy="259.85" r="6.1" fill="#898989"/><circle cx="839.5" cy="304.8" r="6.1" fill="#787878"/><circle cx="875" cy="270.15" r="6.1" fill="#676767"/><circle cx="910.5" cy="261" r="6.1" fill="#565656"/><circle cx="945.7" cy="301.45" r="6.1" fill="#454545"/><circle cx="981.2" cy="255" r="6.1" fill="#2b2b2b"/><circle cx="655" cy="364.3" r="6.1" fill="#d3d3d3"/><circle cx="697.5" cy="319.45" r="6.1" fill="#c0c0c0"/><circle cx="733" cy="367.2" r="6.1" fill="#aaaaaa"/><circle cx="768.6" cy="392.7" r="6.1" fill="#9a9a9a"/><circle cx="804" cy="332.6" r="6.1" fill="#898989"/><circle cx="839.5" cy="332.6" r="6.1" fill="#787878"/><circle cx="875" cy="391.9" r="6.1" fill="#676767"/><circle cx="910.5" cy="354.5" r="6.1" fill="#565656"/><circle cx="945.7" cy="318.65" r="6.1" fill="#454545"/><circle cx="981.2" cy="367.45" r="6.1" fill="#2b2b2b"/><circle cx="655" cy="460" r="6.1" fill="#d3d3d3"/><circle cx="697.5" cy="386.4" r="6.1" fill="#c0c0c0"/><circle cx="733" cy="405.4" r="6.1" fill="#aaaaaa"/><circle cx="768.6" cy="464.5" r="6.1" fill="#9a9a9a"/><circle cx="804" cy="478.3" r="6.1" fill="#898989"/><circle cx="839.5" cy="410.5" r="6.1" fill="#787878"/><circle cx="875" cy="394.7" r="6.1" fill="#676767"/><circle cx="910.5" cy="437.8" r="6.1" fill="#565656"/><circle cx="945.7" cy="484.1" r="6.1" fill="#454545"/><circle cx="981.2" cy="428.5" r="6.1" fill="#2b2b2b"/><circle cx="655" cy="555.3" r="6.1" fill="#d3d3d3"/><circle cx="697.5" cy="485" r="6.1" fill="#c0c0c0"/><circle cx="733" cy="446" r="6.1" fill="#aaaaaa"/><circle cx="768.6" cy="481.6" r="6.1" fill="#9a9a9a"/><circle cx="804" cy="554.5" r="6.1" fill="#898989"/><circle cx="839.5" cy="567.8" r="6.1" fill="#787878"/><circle cx="875" cy="522.3" r="6.1" fill="#676767"/><circle cx="910.5" cy="449.3" r="6.1" fill="#565656"/><circle cx="945.7" cy="463.1" r="6.1" fill="#454545"/><circle cx="981.2" cy="521.2" r="6.1" fill="#2b2b2b"/><circle cx="655" cy="649.4" r="6.1" fill="#d3d3d3"/><circle cx="697.5" cy="589.8" r="6.1" fill="#c0c0c0"/><circle cx="733" cy="540.4" r="6.1" fill="#aaaaaa"/><circle cx="768.6" cy="519" r="6.1" fill="#9a9a9a"/><circle cx="804" cy="547.9" r="6.1" fill="#898989"/><circle cx="839.5" cy="605.8" r="6.1" fill="#787878"/><circle cx="875" cy="655.4" r="6.1" fill="#676767"/><circle cx="910.5" cy="644.4" r="6.1" fill="#565656"/><circle cx="945.7" cy="599.8" r="6.1" fill="#454545"/><circle cx="981.2" cy="529.2" r="6.1" fill="#2b2b2b"/><circle cx="655" cy="737" r="6.1" fill="#d3d3d3"/><circle cx="697.5" cy="708.7" r="6.1" fill="#c0c0c0"/><circle cx="733" cy="651.2" r="6.1" fill="#aaaaaa"/><circle cx="768.6" cy="608.8" r="6.1" fill="#9a9a9a"/><circle cx="804" cy="584.6" r="6.1" fill="#898989"/><circle cx="839.5" cy="587.9" r="6.1" fill="#787878"/><circle cx="875" cy="631.4" r="6.1" fill="#676767"/><circle cx="910.5" cy="670.5" r="6.1" fill="#565656"/><circle cx="945.7" cy="726.7" r="6.1" fill="#454545"/><circle cx="981.2" cy="741.1" r="6.1" fill="#2b2b2b"/><circle cx="655" cy="824.5" r="6.1" fill="#d3d3d3"/><circle cx="697.5" cy="802.4" r="6.1" fill="#c0c0c0"/><circle cx="733" cy="774.3" r="6.1" fill="#aaaaaa"/><circle cx="768.6" cy="738.2" r="6.1" fill="#9a9a9a"/><circle cx="804" cy="697.5" r="6.1" fill="#898989"/><circle cx="839.5" cy="671.9" r="6.1" fill="#787878"/><circle cx="875" cy="665.3" r="6.1" fill="#676767"/><circle cx="910.5" cy="644.4" r="6.1" fill="#565656"/><circle cx="945.7" cy="678.8" r="6.1" fill="#454545"/><circle cx="981.2" cy="710.5" r="6.1" fill="#2b2b2b"/><circle cx="655" cy="912.1" r="6.1" fill="#d3d3d3"/><circle cx="697.5" cy="903.9" r="6.1" fill="#c0c0c0"/><circle cx="733" cy="892.3" r="6.1" fill="#aaaaaa"/><circle cx="768.6" cy="870.1" r="6.1" fill="#9a9a9a"/><circle cx="804" cy="846.3" r="6.1" fill="#898989"/><circle cx="839.5" cy="820.4" r="6.1" fill="#787878"/><circle cx="875" cy="795.7" r="6.1" fill="#676767"/><circle cx="910.5" cy="766.7" r="6.1" fill="#565656"/><circle cx="945.7" cy="747.2" r="6.1" fill="#454545"/><circle cx="981.2" cy="721.3" r="6.1" fill="#2b2b2b"/><circle cx="655" cy="988.5" r="6.1" fill="#d3d3d3"/><circle cx="697.5" cy="988.5" r="6.1" fill="#c0c0c0"/><circle cx="733" cy="981.3" r="6.1" fill="#aaaaaa"/><circle cx="768.6" cy="975.6" r="6.1" fill="#9a9a9a"/><circle cx="804" cy="969.5" r="6.1" fill="#898989"/><circle cx="839.5" cy="955.8" r="6.1" fill="#787878"/><circle cx="875" cy="949.9" r="6.1" fill="#676767"/><circle cx="910.5" cy="920.8" r="6.1" fill="#565656"/><circle cx="945.7" cy="912.6" r="6.1" fill="#454545"/><circle cx="981.2" cy="903" r="6.1" fill="#2b2b2b"/><circle cx="655" cy="1067" r="6.1" fill="#d3d3d3"/><circle cx="697.5" cy="1070.1" r="6.1" fill="#c0c0c0"/><circle cx="733" cy="1067.75" r="6.1" fill="#aaaaaa"/><circle cx="768.6" cy="1065.25" r="6.1" fill="#9a9a9a"/><circle cx="804" cy="1070.45" r="6.1" fill="#898989"/><circle cx="839.5" cy="1061.3" r="6.1" fill="#787878"/><circle cx="875" cy="1061.65" r="6.1" fill="#676767"/><circle cx="910.5" cy="1051.75" r="6.1" fill="#565656"/><circle cx="945.7" cy="1054.8" r="6.1" fill="#454545"/><circle cx="981.2" cy="1044.6" r="6.1" fill="#2b2b2b"/><g font-size="30.5" fill="#262626"><text x="655" y="1158.3" text-anchor="middle">0</text><text x="761.36" y="1158.3" text-anchor="middle">50</text><text x="867.71" y="1158.3" text-anchor="middle">100</text><text x="974.07" y="1158.3" text-anchor="middle">150</text><text x="646.4" y="1130.5" text-anchor="end">0</text><text x="646.4" y="933.41" text-anchor="end">5</text><text x="646.4" y="736.32" text-anchor="end">10</text><text x="646.4" y="539.23" text-anchor="end">15</text><text x="646.4" y="342.14" text-anchor="end">20</text><text x="646.4" y="145.05" text-anchor="end">25</text></g><text x="-0.73" y="23.6" font-size="42" fill="#111" font-weight="bold">a</text><text x="-0.97" y="465" font-size="42" fill="#111" font-weight="bold">b</text><text x="583.66" y="23.7" font-size="42" fill="#111" font-weight="bold">c</text><text x="263.24" y="410.4" font-size="33.5" fill="#262626">k</text><text x="290.12" y="410.4" font-size="33.5" fill="#262626">(</text><text transform="translate(302.74,410.4) scale(1.17,1)" font-size="31.6" fill="#262626" font-style="italic" font-family="Liberation Serif">μ</text><text x="322.18" y="410.4" font-size="33.5" fill="#262626">m</text><text x="352.07" y="393.6" font-size="25.4" fill="#262626">-</text><text x="360.07" y="393.6" font-size="25.4" fill="#262626">1</text><text x="378.4" y="410.4" font-size="33.5" fill="#262626">)</text><text x="263.24" y="1202.5" font-size="33.5" fill="#262626">k</text><text x="290.12" y="1202.5" font-size="33.5" fill="#262626">(</text><text transform="translate(302.74,1202.5) scale(1.17,1)" font-size="31.6" fill="#262626" font-style="italic" font-family="Liberation Serif">μ</text><text x="322.18" y="1202.5" font-size="33.5" fill="#262626">m</text><text x="352.07" y="1185.2" font-size="25.4" fill="#262626">-</text><text x="360.07" y="1185.2" font-size="25.4" fill="#262626">1</text><text x="378.4" y="1202.5" font-size="33.5" fill="#262626">)</text><text transform="translate(775.21,1200.3) scale(1.45,1)" font-size="31" fill="#262626" font-style="italic" font-family="Liberation Serif">τ</text><text x="801.02" y="1200.3" font-size="33.5" fill="#262626">(</text><text x="811.94" y="1200.3" font-size="33.5" fill="#262626">ps</text><text x="849.5" y="1200.3" font-size="33.5" fill="#262626">)</text><text transform="translate(46.5,816.32) rotate(-90) scale(1,1)" font-size="33.5" fill="#262626">S(k)</text><text transform="translate(598,597.42) rotate(-90) scale(1,1)" font-size="33.5" fill="#262626">S(k)</text><text transform="translate(40.2,281.57) rotate(-90) scale(1,1)" font-size="32.2" fill="#262626" font-style="italic" font-family="Liberation Serif">ω</text><text transform="translate(55.6,259.01) rotate(-90) scale(1,1)" font-size="25.4" fill="#262626">k</text><text transform="translate(39.8,234.78) rotate(-90) scale(1,1)" font-size="33.5" fill="#262626">(</text><text transform="translate(39.8,222.55) rotate(-90) scale(1,1)" font-size="33.5" fill="#262626">10</text><text transform="translate(23.5,183.73) rotate(-90) scale(1,1)" font-size="25.4" fill="#262626">10</text><text transform="translate(39.8,144.03) rotate(-90) scale(1,1)" font-size="33.5" fill="#262626">sec</text><text transform="translate(23.5,91.03) rotate(-90) scale(1,1)" font-size="25.4" fill="#262626">-</text><text transform="translate(23.5,80.83) rotate(-90) scale(1,1)" font-size="25.4" fill="#262626">1</text><text transform="translate(39.8,64.7) rotate(-90) scale(1,1)" font-size="33.5" fill="#262626">)</text></svg></body></html>
